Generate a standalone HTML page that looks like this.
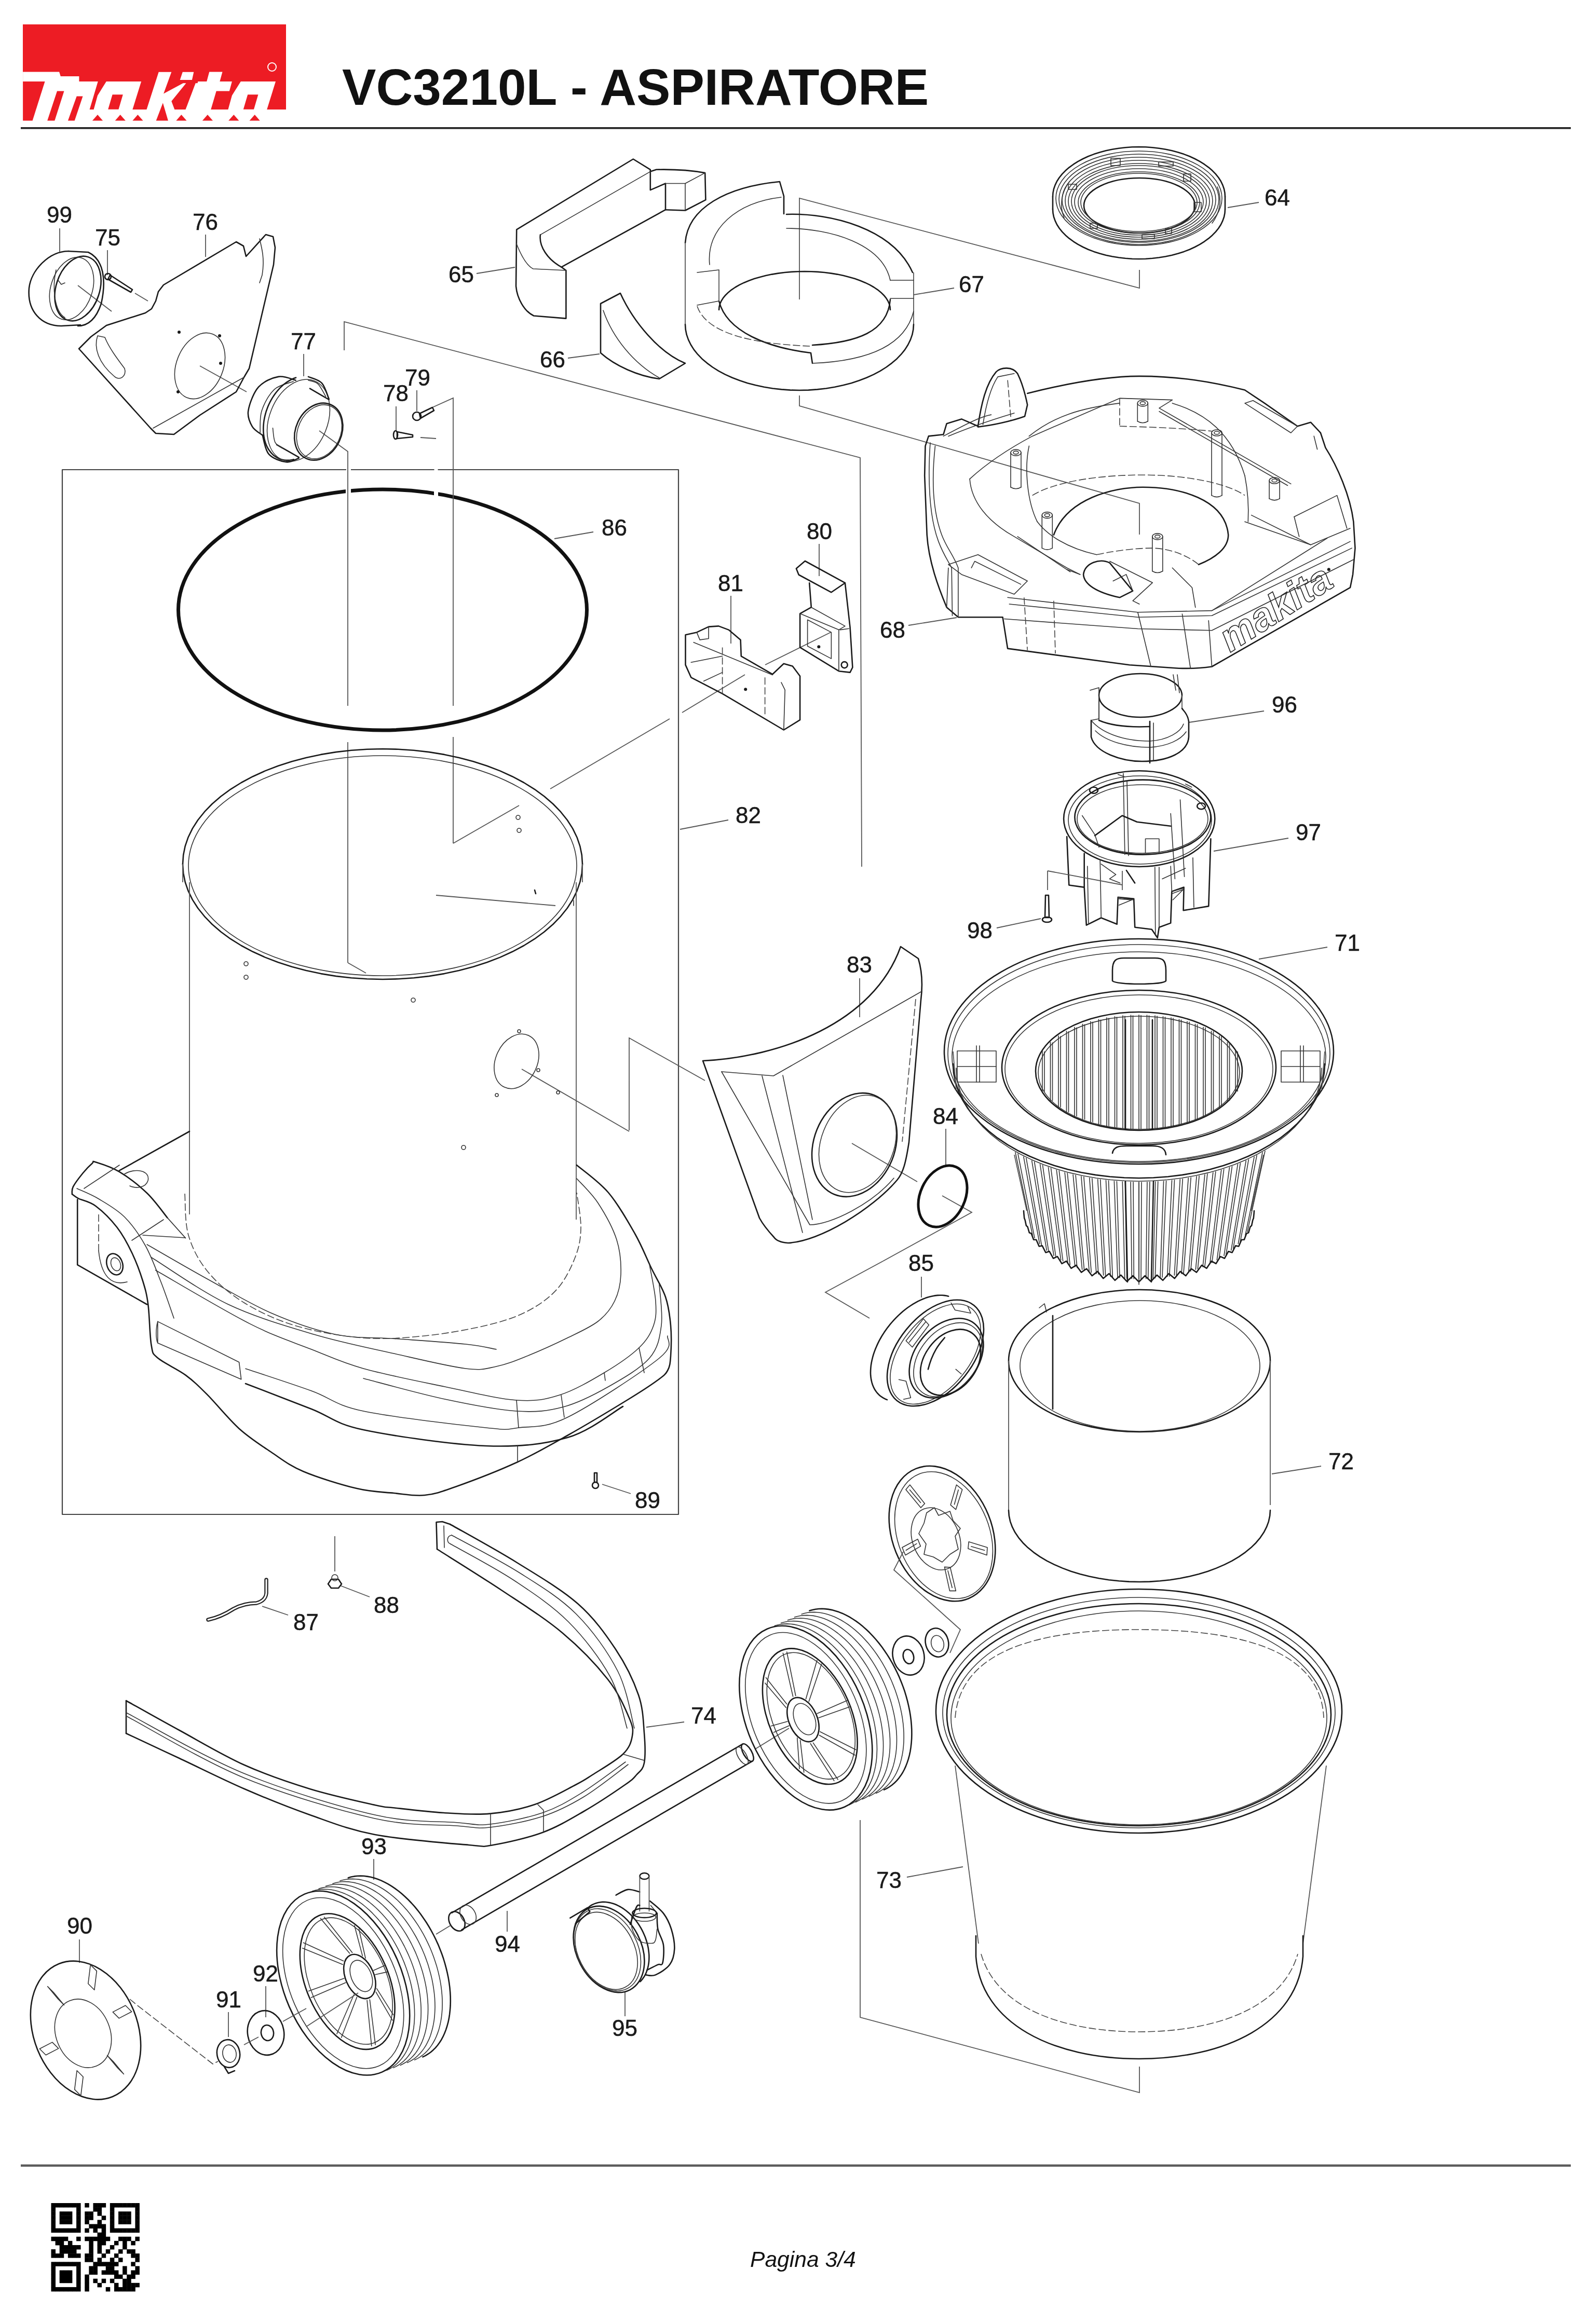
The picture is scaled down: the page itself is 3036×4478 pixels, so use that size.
<!DOCTYPE html>
<html><head><meta charset="utf-8"><style>
html,body{margin:0;padding:0;background:#fff;}
body{width:3036px;height:4478px;overflow:hidden;position:relative;}
svg{position:absolute;left:0;top:0;will-change:transform;}
.o{fill:none;stroke:#1a1a1a;stroke-width:2.6;stroke-linejoin:round;stroke-linecap:round;}
.t{fill:none;stroke:#333;stroke-width:1.6;stroke-linejoin:round;stroke-linecap:round;}
.d{fill:none;stroke:#444;stroke-width:1.6;stroke-dasharray:14 5;}
.l{fill:none;stroke:#555;stroke-width:1.8;}
.k{fill:none;stroke:#111;stroke-width:7;}
.f{fill:#1a1a1a;stroke:none;}
.n{font-family:"Liberation Sans",sans-serif;font-size:44px;fill:#1a1a1a;stroke:#1a1a1a;stroke-width:0.5;}
</style></head><body>
<svg width="3036" height="4478" viewBox="0 0 3036 4478">
<rect x="44" y="47" width="507" height="185" fill="#ed1c24"/>
<rect x="44" y="211" width="510" height="24" fill="#fff"/>
<polygon fill="#fff" points="44.1,138.5 114.1,138.5 116.8,146.9 152.4,146.9 152.4,157.0 188.7,157.0 166.2,232.6 44.1,232.6"/>
<polygon fill="#fff" points="204.8,157.0 272.1,157.0 248.6,232.6 174.6,232.6 188.0,183.9"/>
<polygon fill="#fff" points="305.7,138.8 330.3,138.8 315.1,180.5 352.8,160.3 358.5,160.3 330.3,195.0 344.4,232.6 275.5,232.6"/>
<polygon fill="#fff" points="351.8,138.8 373.3,138.8 369.9,154.0 346.7,154.0"/>
<polygon fill="#fff" points="376.7,160.3 398.2,160.3 373.0,232.6 349.4,232.6"/>
<polygon fill="#fff" points="403.2,138.5 428.5,138.5 423.4,157.0 446.9,157.0 441.9,175.5 416.7,175.5 399.9,232.6 369.6,232.6 386.4,175.5 376.3,175.5 381.4,157.0 398.2,157.0"/>
<polygon fill="#fff" points="463.8,157.0 531.0,157.0 507.5,232.6 433.5,232.6 446.9,183.9"/>
<polygon fill="#ed1c24" points="44.1,157.0 86.5,157.0 62.6,232.6 44.1,232.6"/>
<polygon fill="#ed1c24" points="110.0,175.5 123.5,175.5 105.3,232.6 91.2,232.6"/>
<polygon fill="#ed1c24" points="147.7,185.6 159.5,185.6 143.7,232.6 130.9,232.6"/>
<polygon fill="#ed1c24" points="216.6,182.2 236.8,182.2 228.4,210.8 208.2,210.8"/>
<polygon fill="#ed1c24" points="477.2,182.2 497.4,182.2 489.0,210.8 468.8,210.8"/>
<polygon fill="#ed1c24" points="313.8,198.3 323.9,232.6 300.7,232.6"/>
<polygon fill="#ed1c24" points="177.9,232.6 188.0,220.9 198.1,232.6"/>
<polygon fill="#ed1c24" points="221.7,232.6 231.7,220.9 241.8,232.6"/>
<polygon fill="#ed1c24" points="255.3,232.6 265.4,220.9 275.5,232.6"/>
<polygon fill="#ed1c24" points="339.3,232.6 349.4,220.9 359.5,232.6"/>
<polygon fill="#ed1c24" points="389.8,232.6 399.9,220.9 410.0,232.6"/>
<polygon fill="#ed1c24" points="440.2,232.6 450.3,220.9 460.4,232.6"/>
<polygon fill="#ed1c24" points="480.6,232.6 490.7,220.9 500.7,232.6"/>
<circle cx="524" cy="129" r="8" fill="none" stroke="#fff" stroke-width="2"/>
<text x="659" y="202" font-family="Liberation Sans, sans-serif" font-weight="bold" font-size="98.1" fill="#111">VC3210L - ASPIRATORE</text>
<rect x="40" y="245" width="2986" height="3.6" fill="#222"/>
<rect x="40" y="4170.5" width="2986" height="4.4" fill="#5c5c5c"/>
<text x="1445" y="4368" font-family="Liberation Sans, sans-serif" font-style="italic" font-size="42.6" fill="#111">Pagina 3/4</text>
<rect x="98.50" y="4245.00" width="8.50" height="8.50" fill="#000"/>
<rect x="106.60" y="4245.00" width="8.50" height="8.50" fill="#000"/>
<rect x="114.69" y="4245.00" width="8.50" height="8.50" fill="#000"/>
<rect x="122.79" y="4245.00" width="8.50" height="8.50" fill="#000"/>
<rect x="130.88" y="4245.00" width="8.50" height="8.50" fill="#000"/>
<rect x="138.98" y="4245.00" width="8.50" height="8.50" fill="#000"/>
<rect x="147.07" y="4245.00" width="8.50" height="8.50" fill="#000"/>
<rect x="163.26" y="4245.00" width="8.50" height="8.50" fill="#000"/>
<rect x="179.45" y="4245.00" width="8.50" height="8.50" fill="#000"/>
<rect x="187.55" y="4245.00" width="8.50" height="8.50" fill="#000"/>
<rect x="195.64" y="4245.00" width="8.50" height="8.50" fill="#000"/>
<rect x="211.83" y="4245.00" width="8.50" height="8.50" fill="#000"/>
<rect x="219.93" y="4245.00" width="8.50" height="8.50" fill="#000"/>
<rect x="228.02" y="4245.00" width="8.50" height="8.50" fill="#000"/>
<rect x="236.12" y="4245.00" width="8.50" height="8.50" fill="#000"/>
<rect x="244.21" y="4245.00" width="8.50" height="8.50" fill="#000"/>
<rect x="252.31" y="4245.00" width="8.50" height="8.50" fill="#000"/>
<rect x="260.40" y="4245.00" width="8.50" height="8.50" fill="#000"/>
<rect x="98.50" y="4253.10" width="8.50" height="8.50" fill="#000"/>
<rect x="147.07" y="4253.10" width="8.50" height="8.50" fill="#000"/>
<rect x="179.45" y="4253.10" width="8.50" height="8.50" fill="#000"/>
<rect x="187.55" y="4253.10" width="8.50" height="8.50" fill="#000"/>
<rect x="211.83" y="4253.10" width="8.50" height="8.50" fill="#000"/>
<rect x="260.40" y="4253.10" width="8.50" height="8.50" fill="#000"/>
<rect x="98.50" y="4261.19" width="8.50" height="8.50" fill="#000"/>
<rect x="114.69" y="4261.19" width="8.50" height="8.50" fill="#000"/>
<rect x="122.79" y="4261.19" width="8.50" height="8.50" fill="#000"/>
<rect x="130.88" y="4261.19" width="8.50" height="8.50" fill="#000"/>
<rect x="147.07" y="4261.19" width="8.50" height="8.50" fill="#000"/>
<rect x="163.26" y="4261.19" width="8.50" height="8.50" fill="#000"/>
<rect x="171.36" y="4261.19" width="8.50" height="8.50" fill="#000"/>
<rect x="187.55" y="4261.19" width="8.50" height="8.50" fill="#000"/>
<rect x="211.83" y="4261.19" width="8.50" height="8.50" fill="#000"/>
<rect x="228.02" y="4261.19" width="8.50" height="8.50" fill="#000"/>
<rect x="236.12" y="4261.19" width="8.50" height="8.50" fill="#000"/>
<rect x="244.21" y="4261.19" width="8.50" height="8.50" fill="#000"/>
<rect x="260.40" y="4261.19" width="8.50" height="8.50" fill="#000"/>
<rect x="98.50" y="4269.29" width="8.50" height="8.50" fill="#000"/>
<rect x="114.69" y="4269.29" width="8.50" height="8.50" fill="#000"/>
<rect x="122.79" y="4269.29" width="8.50" height="8.50" fill="#000"/>
<rect x="130.88" y="4269.29" width="8.50" height="8.50" fill="#000"/>
<rect x="147.07" y="4269.29" width="8.50" height="8.50" fill="#000"/>
<rect x="163.26" y="4269.29" width="8.50" height="8.50" fill="#000"/>
<rect x="171.36" y="4269.29" width="8.50" height="8.50" fill="#000"/>
<rect x="195.64" y="4269.29" width="8.50" height="8.50" fill="#000"/>
<rect x="211.83" y="4269.29" width="8.50" height="8.50" fill="#000"/>
<rect x="228.02" y="4269.29" width="8.50" height="8.50" fill="#000"/>
<rect x="236.12" y="4269.29" width="8.50" height="8.50" fill="#000"/>
<rect x="244.21" y="4269.29" width="8.50" height="8.50" fill="#000"/>
<rect x="260.40" y="4269.29" width="8.50" height="8.50" fill="#000"/>
<rect x="98.50" y="4277.38" width="8.50" height="8.50" fill="#000"/>
<rect x="114.69" y="4277.38" width="8.50" height="8.50" fill="#000"/>
<rect x="122.79" y="4277.38" width="8.50" height="8.50" fill="#000"/>
<rect x="130.88" y="4277.38" width="8.50" height="8.50" fill="#000"/>
<rect x="147.07" y="4277.38" width="8.50" height="8.50" fill="#000"/>
<rect x="163.26" y="4277.38" width="8.50" height="8.50" fill="#000"/>
<rect x="187.55" y="4277.38" width="8.50" height="8.50" fill="#000"/>
<rect x="211.83" y="4277.38" width="8.50" height="8.50" fill="#000"/>
<rect x="228.02" y="4277.38" width="8.50" height="8.50" fill="#000"/>
<rect x="236.12" y="4277.38" width="8.50" height="8.50" fill="#000"/>
<rect x="244.21" y="4277.38" width="8.50" height="8.50" fill="#000"/>
<rect x="260.40" y="4277.38" width="8.50" height="8.50" fill="#000"/>
<rect x="98.50" y="4285.48" width="8.50" height="8.50" fill="#000"/>
<rect x="147.07" y="4285.48" width="8.50" height="8.50" fill="#000"/>
<rect x="171.36" y="4285.48" width="8.50" height="8.50" fill="#000"/>
<rect x="179.45" y="4285.48" width="8.50" height="8.50" fill="#000"/>
<rect x="187.55" y="4285.48" width="8.50" height="8.50" fill="#000"/>
<rect x="195.64" y="4285.48" width="8.50" height="8.50" fill="#000"/>
<rect x="211.83" y="4285.48" width="8.50" height="8.50" fill="#000"/>
<rect x="260.40" y="4285.48" width="8.50" height="8.50" fill="#000"/>
<rect x="98.50" y="4293.57" width="8.50" height="8.50" fill="#000"/>
<rect x="106.60" y="4293.57" width="8.50" height="8.50" fill="#000"/>
<rect x="114.69" y="4293.57" width="8.50" height="8.50" fill="#000"/>
<rect x="122.79" y="4293.57" width="8.50" height="8.50" fill="#000"/>
<rect x="130.88" y="4293.57" width="8.50" height="8.50" fill="#000"/>
<rect x="138.98" y="4293.57" width="8.50" height="8.50" fill="#000"/>
<rect x="147.07" y="4293.57" width="8.50" height="8.50" fill="#000"/>
<rect x="163.26" y="4293.57" width="8.50" height="8.50" fill="#000"/>
<rect x="179.45" y="4293.57" width="8.50" height="8.50" fill="#000"/>
<rect x="195.64" y="4293.57" width="8.50" height="8.50" fill="#000"/>
<rect x="211.83" y="4293.57" width="8.50" height="8.50" fill="#000"/>
<rect x="219.93" y="4293.57" width="8.50" height="8.50" fill="#000"/>
<rect x="228.02" y="4293.57" width="8.50" height="8.50" fill="#000"/>
<rect x="236.12" y="4293.57" width="8.50" height="8.50" fill="#000"/>
<rect x="244.21" y="4293.57" width="8.50" height="8.50" fill="#000"/>
<rect x="252.31" y="4293.57" width="8.50" height="8.50" fill="#000"/>
<rect x="260.40" y="4293.57" width="8.50" height="8.50" fill="#000"/>
<rect x="187.55" y="4301.67" width="8.50" height="8.50" fill="#000"/>
<rect x="195.64" y="4301.67" width="8.50" height="8.50" fill="#000"/>
<rect x="98.50" y="4309.76" width="8.50" height="8.50" fill="#000"/>
<rect x="106.60" y="4309.76" width="8.50" height="8.50" fill="#000"/>
<rect x="114.69" y="4309.76" width="8.50" height="8.50" fill="#000"/>
<rect x="122.79" y="4309.76" width="8.50" height="8.50" fill="#000"/>
<rect x="147.07" y="4309.76" width="8.50" height="8.50" fill="#000"/>
<rect x="163.26" y="4309.76" width="8.50" height="8.50" fill="#000"/>
<rect x="171.36" y="4309.76" width="8.50" height="8.50" fill="#000"/>
<rect x="179.45" y="4309.76" width="8.50" height="8.50" fill="#000"/>
<rect x="187.55" y="4309.76" width="8.50" height="8.50" fill="#000"/>
<rect x="195.64" y="4309.76" width="8.50" height="8.50" fill="#000"/>
<rect x="203.74" y="4309.76" width="8.50" height="8.50" fill="#000"/>
<rect x="228.02" y="4309.76" width="8.50" height="8.50" fill="#000"/>
<rect x="236.12" y="4309.76" width="8.50" height="8.50" fill="#000"/>
<rect x="244.21" y="4309.76" width="8.50" height="8.50" fill="#000"/>
<rect x="260.40" y="4309.76" width="8.50" height="8.50" fill="#000"/>
<rect x="106.60" y="4317.86" width="8.50" height="8.50" fill="#000"/>
<rect x="114.69" y="4317.86" width="8.50" height="8.50" fill="#000"/>
<rect x="130.88" y="4317.86" width="8.50" height="8.50" fill="#000"/>
<rect x="171.36" y="4317.86" width="8.50" height="8.50" fill="#000"/>
<rect x="187.55" y="4317.86" width="8.50" height="8.50" fill="#000"/>
<rect x="195.64" y="4317.86" width="8.50" height="8.50" fill="#000"/>
<rect x="219.93" y="4317.86" width="8.50" height="8.50" fill="#000"/>
<rect x="236.12" y="4317.86" width="8.50" height="8.50" fill="#000"/>
<rect x="252.31" y="4317.86" width="8.50" height="8.50" fill="#000"/>
<rect x="114.69" y="4325.95" width="8.50" height="8.50" fill="#000"/>
<rect x="122.79" y="4325.95" width="8.50" height="8.50" fill="#000"/>
<rect x="130.88" y="4325.95" width="8.50" height="8.50" fill="#000"/>
<rect x="138.98" y="4325.95" width="8.50" height="8.50" fill="#000"/>
<rect x="147.07" y="4325.95" width="8.50" height="8.50" fill="#000"/>
<rect x="171.36" y="4325.95" width="8.50" height="8.50" fill="#000"/>
<rect x="187.55" y="4325.95" width="8.50" height="8.50" fill="#000"/>
<rect x="211.83" y="4325.95" width="8.50" height="8.50" fill="#000"/>
<rect x="236.12" y="4325.95" width="8.50" height="8.50" fill="#000"/>
<rect x="98.50" y="4334.05" width="8.50" height="8.50" fill="#000"/>
<rect x="114.69" y="4334.05" width="8.50" height="8.50" fill="#000"/>
<rect x="122.79" y="4334.05" width="8.50" height="8.50" fill="#000"/>
<rect x="130.88" y="4334.05" width="8.50" height="8.50" fill="#000"/>
<rect x="138.98" y="4334.05" width="8.50" height="8.50" fill="#000"/>
<rect x="171.36" y="4334.05" width="8.50" height="8.50" fill="#000"/>
<rect x="187.55" y="4334.05" width="8.50" height="8.50" fill="#000"/>
<rect x="203.74" y="4334.05" width="8.50" height="8.50" fill="#000"/>
<rect x="228.02" y="4334.05" width="8.50" height="8.50" fill="#000"/>
<rect x="244.21" y="4334.05" width="8.50" height="8.50" fill="#000"/>
<rect x="252.31" y="4334.05" width="8.50" height="8.50" fill="#000"/>
<rect x="98.50" y="4342.14" width="8.50" height="8.50" fill="#000"/>
<rect x="106.60" y="4342.14" width="8.50" height="8.50" fill="#000"/>
<rect x="114.69" y="4342.14" width="8.50" height="8.50" fill="#000"/>
<rect x="130.88" y="4342.14" width="8.50" height="8.50" fill="#000"/>
<rect x="138.98" y="4342.14" width="8.50" height="8.50" fill="#000"/>
<rect x="147.07" y="4342.14" width="8.50" height="8.50" fill="#000"/>
<rect x="163.26" y="4342.14" width="8.50" height="8.50" fill="#000"/>
<rect x="171.36" y="4342.14" width="8.50" height="8.50" fill="#000"/>
<rect x="195.64" y="4342.14" width="8.50" height="8.50" fill="#000"/>
<rect x="219.93" y="4342.14" width="8.50" height="8.50" fill="#000"/>
<rect x="252.31" y="4342.14" width="8.50" height="8.50" fill="#000"/>
<rect x="260.40" y="4342.14" width="8.50" height="8.50" fill="#000"/>
<rect x="163.26" y="4350.24" width="8.50" height="8.50" fill="#000"/>
<rect x="171.36" y="4350.24" width="8.50" height="8.50" fill="#000"/>
<rect x="187.55" y="4350.24" width="8.50" height="8.50" fill="#000"/>
<rect x="211.83" y="4350.24" width="8.50" height="8.50" fill="#000"/>
<rect x="228.02" y="4350.24" width="8.50" height="8.50" fill="#000"/>
<rect x="260.40" y="4350.24" width="8.50" height="8.50" fill="#000"/>
<rect x="98.50" y="4358.33" width="8.50" height="8.50" fill="#000"/>
<rect x="106.60" y="4358.33" width="8.50" height="8.50" fill="#000"/>
<rect x="114.69" y="4358.33" width="8.50" height="8.50" fill="#000"/>
<rect x="122.79" y="4358.33" width="8.50" height="8.50" fill="#000"/>
<rect x="130.88" y="4358.33" width="8.50" height="8.50" fill="#000"/>
<rect x="138.98" y="4358.33" width="8.50" height="8.50" fill="#000"/>
<rect x="147.07" y="4358.33" width="8.50" height="8.50" fill="#000"/>
<rect x="179.45" y="4358.33" width="8.50" height="8.50" fill="#000"/>
<rect x="187.55" y="4358.33" width="8.50" height="8.50" fill="#000"/>
<rect x="195.64" y="4358.33" width="8.50" height="8.50" fill="#000"/>
<rect x="203.74" y="4358.33" width="8.50" height="8.50" fill="#000"/>
<rect x="211.83" y="4358.33" width="8.50" height="8.50" fill="#000"/>
<rect x="219.93" y="4358.33" width="8.50" height="8.50" fill="#000"/>
<rect x="252.31" y="4358.33" width="8.50" height="8.50" fill="#000"/>
<rect x="98.50" y="4366.43" width="8.50" height="8.50" fill="#000"/>
<rect x="147.07" y="4366.43" width="8.50" height="8.50" fill="#000"/>
<rect x="171.36" y="4366.43" width="8.50" height="8.50" fill="#000"/>
<rect x="179.45" y="4366.43" width="8.50" height="8.50" fill="#000"/>
<rect x="203.74" y="4366.43" width="8.50" height="8.50" fill="#000"/>
<rect x="211.83" y="4366.43" width="8.50" height="8.50" fill="#000"/>
<rect x="236.12" y="4366.43" width="8.50" height="8.50" fill="#000"/>
<rect x="260.40" y="4366.43" width="8.50" height="8.50" fill="#000"/>
<rect x="98.50" y="4374.52" width="8.50" height="8.50" fill="#000"/>
<rect x="114.69" y="4374.52" width="8.50" height="8.50" fill="#000"/>
<rect x="122.79" y="4374.52" width="8.50" height="8.50" fill="#000"/>
<rect x="130.88" y="4374.52" width="8.50" height="8.50" fill="#000"/>
<rect x="147.07" y="4374.52" width="8.50" height="8.50" fill="#000"/>
<rect x="171.36" y="4374.52" width="8.50" height="8.50" fill="#000"/>
<rect x="179.45" y="4374.52" width="8.50" height="8.50" fill="#000"/>
<rect x="195.64" y="4374.52" width="8.50" height="8.50" fill="#000"/>
<rect x="203.74" y="4374.52" width="8.50" height="8.50" fill="#000"/>
<rect x="211.83" y="4374.52" width="8.50" height="8.50" fill="#000"/>
<rect x="219.93" y="4374.52" width="8.50" height="8.50" fill="#000"/>
<rect x="236.12" y="4374.52" width="8.50" height="8.50" fill="#000"/>
<rect x="252.31" y="4374.52" width="8.50" height="8.50" fill="#000"/>
<rect x="260.40" y="4374.52" width="8.50" height="8.50" fill="#000"/>
<rect x="98.50" y="4382.62" width="8.50" height="8.50" fill="#000"/>
<rect x="114.69" y="4382.62" width="8.50" height="8.50" fill="#000"/>
<rect x="122.79" y="4382.62" width="8.50" height="8.50" fill="#000"/>
<rect x="130.88" y="4382.62" width="8.50" height="8.50" fill="#000"/>
<rect x="147.07" y="4382.62" width="8.50" height="8.50" fill="#000"/>
<rect x="163.26" y="4382.62" width="8.50" height="8.50" fill="#000"/>
<rect x="219.93" y="4382.62" width="8.50" height="8.50" fill="#000"/>
<rect x="228.02" y="4382.62" width="8.50" height="8.50" fill="#000"/>
<rect x="244.21" y="4382.62" width="8.50" height="8.50" fill="#000"/>
<rect x="252.31" y="4382.62" width="8.50" height="8.50" fill="#000"/>
<rect x="98.50" y="4390.71" width="8.50" height="8.50" fill="#000"/>
<rect x="114.69" y="4390.71" width="8.50" height="8.50" fill="#000"/>
<rect x="122.79" y="4390.71" width="8.50" height="8.50" fill="#000"/>
<rect x="130.88" y="4390.71" width="8.50" height="8.50" fill="#000"/>
<rect x="147.07" y="4390.71" width="8.50" height="8.50" fill="#000"/>
<rect x="163.26" y="4390.71" width="8.50" height="8.50" fill="#000"/>
<rect x="179.45" y="4390.71" width="8.50" height="8.50" fill="#000"/>
<rect x="195.64" y="4390.71" width="8.50" height="8.50" fill="#000"/>
<rect x="211.83" y="4390.71" width="8.50" height="8.50" fill="#000"/>
<rect x="236.12" y="4390.71" width="8.50" height="8.50" fill="#000"/>
<rect x="244.21" y="4390.71" width="8.50" height="8.50" fill="#000"/>
<rect x="98.50" y="4398.81" width="8.50" height="8.50" fill="#000"/>
<rect x="147.07" y="4398.81" width="8.50" height="8.50" fill="#000"/>
<rect x="163.26" y="4398.81" width="8.50" height="8.50" fill="#000"/>
<rect x="187.55" y="4398.81" width="8.50" height="8.50" fill="#000"/>
<rect x="219.93" y="4398.81" width="8.50" height="8.50" fill="#000"/>
<rect x="236.12" y="4398.81" width="8.50" height="8.50" fill="#000"/>
<rect x="244.21" y="4398.81" width="8.50" height="8.50" fill="#000"/>
<rect x="252.31" y="4398.81" width="8.50" height="8.50" fill="#000"/>
<rect x="260.40" y="4398.81" width="8.50" height="8.50" fill="#000"/>
<rect x="98.50" y="4406.90" width="8.50" height="8.50" fill="#000"/>
<rect x="106.60" y="4406.90" width="8.50" height="8.50" fill="#000"/>
<rect x="114.69" y="4406.90" width="8.50" height="8.50" fill="#000"/>
<rect x="122.79" y="4406.90" width="8.50" height="8.50" fill="#000"/>
<rect x="130.88" y="4406.90" width="8.50" height="8.50" fill="#000"/>
<rect x="138.98" y="4406.90" width="8.50" height="8.50" fill="#000"/>
<rect x="147.07" y="4406.90" width="8.50" height="8.50" fill="#000"/>
<rect x="163.26" y="4406.90" width="8.50" height="8.50" fill="#000"/>
<rect x="203.74" y="4406.90" width="8.50" height="8.50" fill="#000"/>
<rect x="219.93" y="4406.90" width="8.50" height="8.50" fill="#000"/>
<rect x="228.02" y="4406.90" width="8.50" height="8.50" fill="#000"/>
<rect x="236.12" y="4406.90" width="8.50" height="8.50" fill="#000"/>
<rect x="244.21" y="4406.90" width="8.50" height="8.50" fill="#000"/>
<rect x="252.31" y="4406.90" width="8.50" height="8.50" fill="#000"/>
<rect class="o" x="120" y="905" width="1187" height="2013" style="stroke:#444;stroke-width:2.2"/>
<ellipse class="k" cx="737" cy="1175" rx="393.5" ry="232"/>
<rect x="666" y="934" width="10" height="22" fill="#fff"/><rect x="836" y="940" width="8" height="22" fill="#fff"/><rect x="667" y="900" width="9" height="9" fill="#fff"/><rect x="836.5" y="900" width="7" height="9" fill="#fff"/>
<text class="n" x="90" y="429">99</text>
<text class="n" x="183" y="473">75</text>
<text class="n" x="371" y="443">76</text>
<text class="n" x="560" y="673">77</text>
<text class="n" x="738" y="773">78</text>
<text class="n" x="780" y="743">79</text>
<text class="n" x="864" y="544">65</text>
<text class="n" x="1040" y="708">66</text>
<text class="n" x="1159" y="1032">86</text>
<text class="n" x="1383" y="1139">81</text>
<text class="n" x="1417" y="1586">82</text>
<text class="n" x="2436" y="396">64</text>
<text class="n" x="1847" y="563">67</text>
<text class="n" x="1695" y="1229">68</text>
<text class="n" x="1554" y="1039">80</text>
<text class="n" x="2450" y="1373">96</text>
<text class="n" x="2496" y="1619">97</text>
<text class="n" x="1863" y="1808">98</text>
<text class="n" x="2571" y="1832">71</text>
<text class="n" x="1631" y="1874">83</text>
<text class="n" x="1797" y="2166">84</text>
<text class="n" x="1750" y="2449">85</text>
<text class="n" x="2559" y="2831">72</text>
<text class="n" x="1223" y="2906">89</text>
<text class="n" x="565" y="3141">87</text>
<text class="n" x="720" y="3108">88</text>
<text class="n" x="1331" y="3321">74</text>
<text class="n" x="696" y="3573">93</text>
<text class="n" x="953" y="3761">94</text>
<text class="n" x="1179" y="3923">95</text>
<text class="n" x="129" y="3726">90</text>
<text class="n" x="416" y="3868">91</text>
<text class="n" x="487" y="3818">92</text>
<text class="n" x="1688" y="3638">73</text>
<line class="l" x1="115" y1="440" x2="115" y2="485"/>
<line class="l" x1="207" y1="482" x2="207" y2="530"/>
<line class="l" x1="396" y1="452" x2="396" y2="495"/>
<line class="l" x1="585" y1="682" x2="585" y2="725"/>
<line class="l" x1="763" y1="783" x2="763" y2="830"/>
<line class="l" x1="803" y1="752" x2="803" y2="792"/>
<line class="l" x1="918" y1="527" x2="992" y2="515"/>
<line class="l" x1="1094" y1="690" x2="1155" y2="682"/>
<line class="l" x1="1068" y1="1038" x2="1143" y2="1025"/>
<line class="l" x1="1408" y1="1148" x2="1408" y2="1240"/>
<line class="l" x1="1310" y1="1598" x2="1403" y2="1580"/>
<line class="l" x1="2365" y1="400" x2="2425" y2="390"/>
<line class="l" x1="1760" y1="568" x2="1838" y2="555"/>
<line class="l" x1="1750" y1="1205" x2="1843" y2="1190"/>
<line class="l" x1="1578" y1="1048" x2="1578" y2="1110"/>
<line class="l" x1="2290" y1="1392" x2="2435" y2="1370"/>
<line class="l" x1="2338" y1="1640" x2="2482" y2="1615"/>
<line class="l" x1="1920" y1="1788" x2="2005" y2="1770"/>
<line class="l" x1="2425" y1="1848" x2="2557" y2="1825"/>
<line class="l" x1="1656" y1="1885" x2="1656" y2="1960"/>
<line class="l" x1="1822" y1="2175" x2="1822" y2="2245"/>
<line class="l" x1="1775" y1="2460" x2="1775" y2="2500"/>
<line class="l" x1="2450" y1="2840" x2="2545" y2="2825"/>
<line class="l" x1="1160" y1="2860" x2="1215" y2="2878"/>
<line class="l" x1="505" y1="3095" x2="555" y2="3112"/>
<line class="l" x1="655" y1="3055" x2="712" y2="3077"/>
<line class="l" x1="1245" y1="3328" x2="1318" y2="3318"/>
<line class="l" x1="720" y1="3582" x2="720" y2="3622"/>
<line class="l" x1="977" y1="3682" x2="977" y2="3722"/>
<line class="l" x1="1204" y1="3837" x2="1204" y2="3885"/>
<line class="l" x1="153" y1="3737" x2="153" y2="3782"/>
<line class="l" x1="440" y1="3877" x2="440" y2="3925"/>
<line class="l" x1="512" y1="3827" x2="512" y2="3887"/>
<line class="l" x1="1747" y1="3617" x2="1855" y2="3597"/>
<path class="l" d="M663.0,675.0 L663.0,620.0 L1657.0,882.0 L1660.0,1670.0"/>
<path class="l" d="M1540.0,577.0 L1540.0,382.0 L2195.0,555.0 L2195.0,520.0"/>
<path class="l" d="M1540.0,762.0 L1540.0,782.0 L2195.0,970.0 L2195.0,1030.0"/>
<path class="l" d="M1657.0,3507.0 L1657.0,3887.0 L2195.0,4032.0 L2195.0,3982.0"/>
<path class="l" d="M1212.0,2178.0 L1212.0,2000.0 L1358.0,2082.0"/>
<line class="l" x1="1005" y1="2060" x2="1212" y2="2180"/>
<line class="l" x1="1641" y1="2203" x2="1767" y2="2277"/>
<path class="l" d="M1815.0,2304.0 L1872.0,2336.0 L1701.0,2430.0"/>
<path class="l" d="M1701.0,2430.0 L1590.0,2490.0 L1675.0,2540.0"/>
<path class="l" d="M833.0,785.0 L873.0,767.0 L873.0,1360.0"/>
<line class="l" x1="873" y1="1420" x2="873" y2="1625"/>
<path class="l" d="M873.0,1625.0 L1000.0,1552.0"/>
<line class="l" x1="810" y1="843" x2="840" y2="845"/>
<path class="l" d="M615.0,830.0 L670.0,870.0 L670.0,1360.0"/>
<line class="l" x1="670" y1="1430" x2="670" y2="1855"/>
<line class="l" x1="670" y1="1855" x2="705" y2="1875"/>
<line class="l" x1="150" y1="550" x2="215" y2="600"/>
<line class="l" x1="260" y1="565" x2="285" y2="580"/>
<line class="l" x1="385" y1="705" x2="475" y2="755"/>
<line class="l" x1="1060" y1="1520" x2="1290" y2="1385"/>
<line class="l" x1="1314" y1="1373" x2="1435" y2="1300"/>
<line class="l" x1="1474" y1="1281" x2="1601" y2="1218"/>
<line class="l" x1="840" y1="1725" x2="1070" y2="1745"/>
<path class="o" d="M132,484 C95,484 60,520 56,555 C52,600 80,628 118,628 L155,626"/>
<path class="o" d="M132,484 L170,486 C200,500 205,540 195,585 C185,615 170,628 150,628"/>
<ellipse class="o" cx="150" cy="556" rx="42" ry="64" transform="rotate(18 150 556)"/>
<ellipse class="t" cx="138" cy="556" rx="40" ry="62" transform="rotate(18 138 556)"/>
<path class="t" d="M108,520 C100,555 105,600 125,612"/>
<path class="t" d="M112.0,540.0 L118.0,548.0 L125.0,545.0"/>
<circle class="o" cx="208" cy="533" r="6"/>
<path class="o" d="M212.0,530.0 L255.0,558.0 L252.0,563.0 L208.0,538.0Z"/>
<path class="o" d="M152.0,672.0 L175.0,649.0 L205.0,627.0 L280.0,603.0 L292.0,595.0 L300.0,580.0 L305.0,562.0 L315.0,549.0 L455.0,466.0 L469.0,474.0 L474.0,494.0 L512.0,452.0 L526.0,456.0 L530.0,477.0 L527.0,510.0 L480.0,710.0 L470.0,727.0 L455.0,755.0 L385.0,800.0 L335.0,837.0 L300.0,835.0 L290.0,825.0Z"/>
<line class="t" x1="295" y1="825" x2="470" y2="727"/>
<ellipse class="t" cx="385" cy="705" rx="45" ry="66" transform="rotate(22 385 705)"/>
<path class="t" d="M188,647 C180,670 190,700 220,725 C230,735 245,725 240,710 C225,690 210,670 202,650 Z"/>
<path class="t" d="M500,460 C505,480 510,500 505,530 L500,545"/>
<circle class="f" cx="345" cy="640" r="3"/><circle class="f" cx="425" cy="700" r="3"/><circle class="f" cx="343" cy="755" r="3"/><circle class="f" cx="423" cy="647" r="3"/>
<path class="o" d="M569.6,732.7 C564.1,731.6 548.1,723.7 536.1,725.9 C524.2,728.0 507.7,734.8 498.1,745.7 C488.4,756.6 480.3,778.7 478.3,791.4 C476.2,804.1 481.3,814.0 485.9,821.8 C490.5,829.7 502.4,835.8 505.7,838.6"/>
<path class="t" d="M565.1,735.0 C559.0,737.6 538.7,740.9 528.5,750.3 C518.4,759.6 508.7,777.4 504.2,791.4 C499.6,805.3 501.6,826.9 501.1,834.0"/>
<path class="o" d="M566.0,885.3 L562.7,886.0 L559.5,886.5 L556.3,886.8 L553.1,886.9 L550.0,886.7 L546.9,886.3 L543.9,885.7 L541.0,884.9 L538.1,883.9 L535.4,882.6 L532.7,881.2 L530.1,879.5 L527.6,877.7 L525.3,875.6 L523.1,873.4 L521.0,870.9 L519.0,868.3 L517.1,865.5 L515.5,862.6 L513.9,859.5 L512.5,856.2 L511.3,852.9 L510.2,849.3 L509.3,845.7 L508.6,842.0 L508.0,838.1 L507.6,834.2 L507.4,830.2 L507.3,826.1 L507.4,822.0 L507.7,817.8 L508.1,813.6 L508.7,809.4 L509.5,805.2 L510.5,800.9 L511.6,796.7 L512.8,792.5 L514.3,788.4 L515.8,784.3 L517.5,780.2 L519.4,776.3 L521.4,772.4 L523.5,768.6 L525.8,764.9 L528.2,761.3 L530.7,757.8 L533.3,754.5 L536.0,751.3 L538.8,748.2 L541.6,745.4 L544.6,742.6 L547.6,740.1 L550.7,737.7 L553.8,735.6 L557.0,733.6 L560.2,731.8 L563.4,730.2 L566.7,728.8 L570.0,727.7"/>
<ellipse class="t" cx="575" cy="810" rx="56" ry="82" transform="rotate(22 575 810)"/>
<path class="o" d="M594.0,725.9 C598.3,727.9 613.3,731.0 619.9,738.1 C626.5,745.2 631.3,763.4 633.6,768.5"/>
<path class="t" d="M594.0,732.7 C597.0,733.9 606.7,734.4 612.3,739.6 C617.9,744.8 625.0,759.9 627.5,764.0"/>
<ellipse class="o" cx="613.8" cy="831.7" rx="44" ry="57" transform="rotate(25 613.8 831.7)"/>
<ellipse class="t" cx="615" cy="832" rx="41" ry="54" transform="rotate(25 615 832)"/>
<path class="o" d="M597.0,748.7 L633.6,770.0"/>
<path class="o" d="M533.1,856.8 L575.7,881.2"/>
<path class="o" d="M505.7,838.6 C507.7,844.7 510.3,866.5 517.9,875.1 C525.5,883.7 541.7,889.1 551.4,890.3 C561.0,891.6 571.7,884.0 575.7,882.7"/>
<path class="t" d="M525.5,824.9 C526.2,829.4 526.7,845.7 530.0,852.3 C533.3,858.9 542.7,862.4 545.3,864.5"/>
<circle class="o" cx="803" cy="802" r="8"/>
<path class="o" d="M808.0,797.0 L833.0,785.0 L836.0,791.0 L810.0,806.0Z"/>
<ellipse class="o" cx="762" cy="838" rx="4" ry="8"/>
<path class="o" d="M765.0,832.0 L795.0,838.0 L795.0,842.0 L765.0,845.0Z"/>
<path class="o" d="M2028.0,379.0 L2028.5,371.5 L2030.0,364.0 L2032.6,356.6 L2036.1,349.3 L2040.6,342.3 L2046.1,335.4 L2052.5,328.8 L2059.7,322.6 L2067.8,316.7 L2076.6,311.1 L2086.2,306.0 L2096.4,301.3 L2107.3,297.1 L2118.6,293.5 L2130.5,290.3 L2142.7,287.7 L2155.2,285.7 L2168.0,284.2 L2181.0,283.3 L2194.0,283.0 L2207.0,283.3 L2220.0,284.2 L2232.8,285.7 L2245.3,287.7 L2257.5,290.3 L2269.4,293.5 L2280.7,297.1 L2291.6,301.3 L2301.8,306.0 L2311.4,311.1 L2320.2,316.7 L2328.3,322.6 L2335.5,328.8 L2341.9,335.4 L2347.4,342.3 L2351.9,349.3 L2355.4,356.6 L2358.0,364.0 L2359.5,371.5 L2360.0,379.0"/>
<path class="o" d="M2360.0,403.0 L2359.5,410.5 L2358.0,418.0 L2355.4,425.4 L2351.9,432.7 L2347.4,439.7 L2341.9,446.6 L2335.5,453.2 L2328.3,459.4 L2320.2,465.3 L2311.4,470.9 L2301.8,476.0 L2291.6,480.7 L2280.7,484.9 L2269.4,488.5 L2257.5,491.7 L2245.3,494.3 L2232.8,496.3 L2220.0,497.8 L2207.0,498.7 L2194.0,499.0 L2181.0,498.7 L2168.0,497.8 L2155.2,496.3 L2142.7,494.3 L2130.5,491.7 L2118.6,488.5 L2107.3,484.9 L2096.4,480.7 L2086.2,476.0 L2076.6,470.9 L2067.8,465.3 L2059.7,459.4 L2052.5,453.2 L2046.1,446.6 L2040.6,439.7 L2036.1,432.7 L2032.6,425.4 L2030.0,418.0 L2028.5,410.5 L2028.0,403.0"/>
<line class="o" x1="2028" y1="379" x2="2028" y2="403"/>
<line class="o" x1="2360" y1="379" x2="2360" y2="403"/>
<ellipse class="o" cx="2195" cy="396" rx="107" ry="53"/>
<ellipse class="t" cx="2194" cy="382" rx="160" ry="91"/>
<ellipse class="t" cx="2194" cy="384" rx="154" ry="87"/>
<ellipse class="t" cx="2194" cy="385" rx="148" ry="82"/>
<ellipse class="t" cx="2194" cy="387" rx="142" ry="78"/>
<ellipse class="t" cx="2194" cy="388" rx="136" ry="73"/>
<ellipse class="t" cx="2194" cy="388" rx="130" ry="69"/>
<ellipse class="t" cx="2194" cy="389" rx="124" ry="64"/>
<ellipse class="t" cx="2194" cy="390" rx="117" ry="59"/>
<ellipse class="t" cx="2194" cy="390" rx="112" ry="56"/>
<rect class="t" x="2140" y="305" width="18" height="14"/>
<rect class="t" x="2232" y="312" width="28" height="8"/>
<rect class="t" x="2280" y="335" width="14" height="14"/>
<rect class="t" x="2058" y="355" width="16" height="10"/>
<rect class="t" x="2300" y="390" width="14" height="18"/>
<rect class="t" x="2100" y="430" width="14" height="10"/>
<rect class="t" x="2200" y="452" width="24" height="8"/>
<rect class="t" x="2245" y="440" width="12" height="10"/>
<path class="t" d="M2050,420 C2040,395 2045,370 2060,350"/>
<path class="t" d="M2345,360 C2355,385 2350,410 2335,430"/>
<path class="o" d="M995.2,442.3 L1219.8,306.5 L1252.8,326.8 L1252.8,366.1 L1282,353.5 L1282,404.2 L1081.5,514.6 L1090.4,521 L1090.4,613.6 L1028.2,608.5 C1010,600 996,575 994,551.4 Z"/>
<path class="o" d="M1252.8,330.6 L1264.3,326.8 C1300,326 1330,328 1358.2,333.1 L1359.4,385.2 L1320.1,405.5 L1282,404.2"/>
<path class="t" d="M1282.0,353.5 L1320.0,353.5 L1358.2,333.1"/>
<line class="t" x1="1320" y1="353.5" x2="1320" y2="405"/>
<path class="o" d="M1040.9,452.4 C1038,475 1055,500 1081.5,514.6"/>
<line class="t" x1="1040.9" y1="452.4" x2="1252.8" y2="330.6"/>
<path class="t" d="M995,470 C1005,495 1015,512 1027,518 L1090.4,521"/>
<path class="o" d="M1157,585 L1195,565 C1220,620 1270,680 1320,700 L1270,730 C1230,725 1185,705 1157,680 Z"/>
<path class="t" d="M1162,598 C1180,650 1220,700 1270,728"/>
<path class="o" d="M1320,468 C1325,400 1400,360 1502,350 L1510,378 L1510,412"/>
<path class="o" d="M1515,413 C1600,410 1720,440 1758,525"/>
<line class="l" x1="1760" y1="525" x2="1760" y2="625"/>
<line class="l" x1="1320" y1="468" x2="1320" y2="625"/>
<path class="o" d="M1760.0,625.0 L1759.3,635.0 L1757.3,644.9 L1753.9,654.6 L1749.2,664.2 L1743.3,673.6 L1736.0,682.7 L1727.6,691.4 L1718.0,699.6 L1707.3,707.5 L1695.6,714.8 L1682.9,721.6 L1669.3,727.7 L1654.9,733.3 L1639.9,738.2 L1624.2,742.3 L1608.0,745.8 L1591.4,748.5 L1574.4,750.4 L1557.3,751.6 L1540.0,752.0 L1522.7,751.6 L1505.6,750.4 L1488.6,748.5 L1472.0,745.8 L1455.8,742.3 L1440.1,738.2 L1425.1,733.3 L1410.7,727.7 L1397.1,721.6 L1384.4,714.8 L1372.7,707.5 L1362.0,699.6 L1352.4,691.4 L1344.0,682.7 L1336.7,673.6 L1330.8,664.2 L1326.1,654.6 L1322.7,644.9 L1320.7,635.0 L1320.0,625.0"/>
<path class="t" d="M1367,510 C1360,440 1420,390 1505,380"/>
<path class="t" d="M1515,440 C1600,440 1700,470 1715,540"/>
<line class="t" x1="1715" y1="540" x2="1760" y2="540"/>
<line class="t" x1="1715" y1="575" x2="1760" y2="575"/>
<path class="o" d="M1385.0,597.0 L1385.5,591.2 L1387.0,585.4 L1389.6,579.7 L1393.1,574.1 L1397.6,568.7 L1403.0,563.4 L1409.3,558.3 L1416.5,553.5 L1424.5,548.9 L1433.3,544.7 L1442.8,540.7 L1453.0,537.1 L1463.8,533.9 L1475.1,531.1 L1486.9,528.6 L1499.0,526.6 L1511.5,525.0 L1524.2,523.9 L1537.1,523.2 L1550.0,523.0 L1562.9,523.2 L1575.8,523.9 L1588.5,525.0 L1601.0,526.6 L1613.1,528.6 L1624.9,531.1 L1636.2,533.9 L1647.0,537.1 L1657.2,540.7 L1666.7,544.7 L1675.5,548.9 L1683.5,553.5 L1690.7,558.3 L1697.0,563.4 L1702.4,568.7 L1706.9,574.1 L1710.4,579.7 L1713.0,585.4 L1714.5,591.2 L1715.0,597.0"/>
<path class="o" d="M1385,580 C1400,640 1480,670 1562,680 L1565,700"/>
<path class="o" d="M1565,665 C1650,660 1710,640 1715,577"/>
<path class="d" d="M1343,590 C1360,640 1440,662 1560,667"/>
<path class="t" d="M1565,700 C1640,697 1740,680 1760,600"/>
<line class="l" x1="1385" y1="520" x2="1385" y2="580"/>
<line class="t" x1="1343" y1="525" x2="1385" y2="520"/>
<line class="t" x1="1343" y1="588" x2="1385" y2="580"/>
<path class="o" d="M1979.2,757.9 C2055.3,738.8 2131.5,724.9 2194.9,724.9 C2271.1,724.9 2334.5,735.7 2398.0,751.5 L2436.0,776.9 L2499.5,821.3 L2524.9,813.7 L2543.9,834.0 L2553.4,862.6 C2575.6,897.5 2601.0,954.6 2607.4,1005.3 L2610.5,1056.1 L2606.1,1106.9 L2601.0,1132.2 L2334.5,1284.5 C2309.1,1288.3 2290.1,1288.3 2271.1,1287.7 L2175.9,1281.3 L1941.1,1249.6 L1931.6,1189.3 L1845.9,1189.3 L1823.7,1170.3 C1807.9,1132.2 1788.8,1081.5 1785.7,1030.7 L1781.2,916.5 L1782.5,859.4 L1788.8,840.4 L1817.4,837.2 L1823.7,816.2 L1852.3,807.4 L1884.0,821.3 "/>
<path class="o" d="M1884.0,821.3 C1890.4,776.9 1899.9,738.8 1918.9,716.6 C1928.4,707.1 1950.6,705.8 1960.2,719.8 C1969.7,738.8 1976.0,764.2 1979.2,780.1 L1974.1,802.3 C1947.5,811.8 1909.4,820.1 1884.0,822.6 "/>
<path class="t" d="M1893.5,818.1 C1899.9,776.9 1909.4,745.2 1922.1,726.1 L1953.8,719.8 "/>
<path class="d" d="M1941.1,732.5 L1947.5,808.6 "/>
<path class="t" d="M1801.5,859.4 C1795.2,916.5 1795.2,979.9 1814.2,1030.7 C1823.7,1056.1 1836.4,1068.8 1845.9,1094.2 L1845.9,1189.3 "/>
<path class="t" d="M1792.0,853.0 C1787.6,916.5 1788.8,992.6 1807.9,1043.4 C1817.4,1068.8 1826.9,1081.5 1833.2,1094.2 L1834.5,1186.2 "/>
<path class="t" d="M1826.9,840.4 C1858.6,827.7 1890.4,815.0 1953.8,795.9 "/>
<path class="t" d="M1817.4,840.4 C1865.0,815.0 1890.4,802.3 1909.4,799.1 "/>
<path class="t" d="M1868.1,922.8 C1903.0,891.1 1941.1,865.7 1988.7,840.4 L2156.9,767.4 L2258.4,770.6 L2233.0,786.4 L2486.8,932.4 "/>
<path class="t" d="M2233.0,792.8 L2480.5,935.5 "/>
<path class="t" d="M1868.1,922.8 C1871.3,967.3 1903.0,1005.3 1953.8,1033.9 L2055.3,1094.2 L2080.7,1106.9 "/>
<path class="t" d="M1960.2,1033.9 L2061.7,1101.8 "/>
<path class="t" d="M1982.4,859.4 C1972.8,903.8 1979.2,967.3 1998.2,1005.3 "/>
<path class="t" d="M2398.0,916.5 C2404.3,948.2 2405.6,979.9 2404.3,1005.3 "/>
<path class="d" d="M2156.9,821.3 C2207.6,822.6 2271.1,824.5 2334.5,830.8 "/>
<path class="d" d="M2156.9,767.4 L2156.9,821.3 "/>
<path class="d" d="M1988.7,954.6 C2029.9,929.2 2112.4,915.2 2201.3,915.2 C2290.1,915.2 2366.2,932.4 2398.0,954.6 "/>
<path class="t" d="M1982.4,840.4 C2029.9,802.3 2080.7,786.4 2156.9,776.9 "/>
<path class="t" d="M2258.4,776.9 C2321.8,795.9 2372.6,834.0 2398.0,916.5 "/>
<path class="o" d="M2029.9,1030.7 C2055.3,960.9 2144.2,938.7 2201.3,938.7 C2271.1,938.7 2359.9,960.9 2366.2,1030.7 C2366.2,1056.1 2340.9,1075.1 2309.1,1087.8 "/>
<path class="d" d="M2112.4,1068.8 C2156.9,1059.3 2194.9,1056.1 2220.3,1056.1 C2258.4,1057.4 2290.1,1072.0 2309.1,1087.8 "/>
<path class="t" d="M1998.2,1005.3 C2017.3,1030.7 2055.3,1056.1 2112.4,1068.8 "/>
<ellipse class="t" cx="2201.3" cy="776.9" rx="10" ry="6"/>
<ellipse class="t" cx="2201.3" cy="776.9" rx="5" ry="3"/>
<line class="t" x1="2191.3" y1="776.9" x2="2191.3" y2="811.8"/>
<line class="t" x1="2211.3" y1="776.9" x2="2211.3" y2="811.8"/>
<path class="t" d="M2191.3,811.8 Q2201.3,817.8 2211.3,811.8"/>
<ellipse class="t" cx="2344.0" cy="834.0" rx="10" ry="6"/>
<ellipse class="t" cx="2344.0" cy="834.0" rx="5" ry="3"/>
<line class="t" x1="2334.0" y1="834.0" x2="2334.0" y2="954.6"/>
<line class="t" x1="2354.0" y1="834.0" x2="2354.0" y2="954.6"/>
<path class="t" d="M2334.0,954.6 Q2344.0,960.6 2354.0,954.6"/>
<ellipse class="t" cx="1957.0" cy="872.1" rx="10" ry="6"/>
<ellipse class="t" cx="1957.0" cy="872.1" rx="5" ry="3"/>
<line class="t" x1="1947.0" y1="872.1" x2="1947.0" y2="938.7"/>
<line class="t" x1="1967.0" y1="872.1" x2="1967.0" y2="938.7"/>
<path class="t" d="M1947.0,938.7 Q1957.0,944.7 1967.0,938.7"/>
<ellipse class="t" cx="2455.1" cy="926.0" rx="10" ry="6"/>
<ellipse class="t" cx="2455.1" cy="926.0" rx="5" ry="3"/>
<line class="t" x1="2445.1" y1="926.0" x2="2445.1" y2="960.9"/>
<line class="t" x1="2465.1" y1="926.0" x2="2465.1" y2="960.9"/>
<path class="t" d="M2445.1,960.9 Q2455.1,966.9 2465.1,960.9"/>
<ellipse class="t" cx="2017.3" cy="992.6" rx="10" ry="6"/>
<ellipse class="t" cx="2017.3" cy="992.6" rx="5" ry="3"/>
<line class="t" x1="2007.3" y1="992.6" x2="2007.3" y2="1056.1"/>
<line class="t" x1="2027.3" y1="992.6" x2="2027.3" y2="1056.1"/>
<path class="t" d="M2007.3,1056.1 Q2017.3,1062.1 2027.3,1056.1"/>
<ellipse class="t" cx="2229.8" cy="1033.9" rx="10" ry="6"/>
<ellipse class="t" cx="2229.8" cy="1033.9" rx="5" ry="3"/>
<line class="t" x1="2219.8" y1="1033.9" x2="2219.8" y2="1100.5"/>
<line class="t" x1="2239.8" y1="1033.9" x2="2239.8" y2="1100.5"/>
<path class="t" d="M2219.8,1100.5 Q2229.8,1106.5 2239.8,1100.5"/>
<path class="t" d="M2398.0,776.9 L2413.8,771.8 L2499.5,821.3 L2486.8,834.0 Z "/>
<path class="t" d="M2531.2,840.4 L2537.6,865.7 "/>
<path class="t" d="M2410.7,992.6 L2524.9,1049.7 "/>
<path class="t" d="M2493.1,995.8 L2575.6,954.6 L2594.7,1018.0 "/>
<path class="t" d="M2493.1,995.8 L2502.7,1033.9 "/>
<path class="t" d="M2398.0,1005.3 L2524.9,1049.7 L2601.0,1018.0 "/>
<path class="t" d="M1941.1,1151.3 L2191.8,1179.8 L2334.5,1176.6 L2601.0,1043.4 "/>
<path class="t" d="M1944.3,1164.0 L2191.8,1189.3 L2334.5,1186.2 L2604.2,1056.1 "/>
<path class="t" d="M1934.8,1192.5 L2191.8,1211.5 L2334.5,1214.7 L2607.4,1078.3 "/>
<path class="t" d="M2191.8,1179.8 L2217.1,1284.5 "/>
<path class="t" d="M2277.4,1183.0 L2293.3,1287.7 "/>
<path class="t" d="M2328.2,1195.7 L2334.5,1284.5 "/>
<path class="d" d="M1972.8,1151.3 L1979.2,1252.8 "/>
<path class="d" d="M2029.9,1157.6 L2033.1,1259.1 "/>
<path class="t" d="M2258.4,1094.2 L2296.4,1132.2 L2302.8,1170.3 "/>
<path class="t" d="M2334.5,1176.6 L2556.6,1037.1 "/>
<path class="t" d="M1826.9,1087.8 L1884.0,1068.8 L1979.2,1119.5 L1953.8,1144.9 L1852.3,1106.9 Z "/>
<path class="t" d="M1871.3,1094.2 L1877.7,1081.5 L1966.5,1125.9 "/>
<path class="t" d="M1823.7,1170.3 L1826.9,1094.2 "/>
<path class="o" d="M2087.1,1106.9 C2090.2,1084.6 2118.8,1075.1 2137.8,1084.6 L2182.2,1138.6 L2156.9,1151.3 C2112.4,1141.8 2088.3,1125.9 2087.1,1106.9 "/>
<path class="t" d="M2055.3,1097.3 L2080.7,1106.9 "/>
<path class="t" d="M2137.8,1081.5 L2220.3,1122.7 L2182.2,1157.6 L2194.9,1164.0 "/>
<path class="t" d="M2144.2,1119.5 L2169.5,1106.9 L2182.2,1138.6 "/>
<circle class="f" cx="2559.8" cy="1097.3" r="3"/>
<text x="2464.6" y="1195.0" transform="rotate(-32.5 2464.6 1183.0)" text-anchor="middle" font-family="Liberation Sans, sans-serif" font-weight="bold" font-style="italic" font-size="76" fill="none" stroke="#222" stroke-width="1.6">makita</text>
<path class="o" d="M1320.5,1223.3 L1342.2,1218.4 L1365.1,1207.6 L1384.4,1206.4 L1403.7,1213.6 L1426.6,1232.9 L1427.8,1264.3 L1488.1,1299.2 L1509.8,1278.7 L1526.7,1283.5 L1541.1,1302.8 L1541.1,1387.2 L1509.8,1406.5 L1391.6,1336.6 L1331.3,1305.3 L1320.5,1281.1Z"/>
<path class="t" d="M1336.2,1237.7 L1488.1,1300.4"/>
<path class="t" d="M1342.2,1218.4 L1348.2,1232.9 L1365.1,1230.5 L1365.1,1207.6"/>
<path class="d" d="M1391.6,1247.4 L1391.6,1336.6"/>
<path class="d" d="M1473.6,1305.3 L1473.6,1377.6"/>
<path class="t" d="M1509.8,1406.5 L1512.2,1329.4 L1505.0,1314.9"/>
<path class="t" d="M1331.3,1276.3 L1391.6,1264.3"/>
<path class="t" d="M1355.5,1312.5 L1391.6,1295.6"/>
<circle class="f" cx="1436.2" cy="1328.2" r="3"/>
<path class="o" d="M1533.9,1095.5 L1550.8,1081.0 L1627.9,1123.2 L1601.4,1141.3 L1538.7,1107.5Z"/>
<path class="o" d="M1559.2,1123.2 L1562.8,1170.2 L1541.1,1182.3 L1541.1,1247.4 L1615.9,1293.2 L1637.6,1295.6 L1642.4,1286.0 L1637.6,1208.8 L1627.9,1123.2"/>
<path class="t" d="M1541.1,1182.3 L1615.9,1213.6 L1615.9,1293.2"/>
<path class="t" d="M1562.8,1170.2 L1627.9,1206.4 L1615.9,1213.6"/>
<path class="t" d="M1555.6,1194.3 L1601.4,1218.4 L1601.4,1269.1 L1555.6,1245.0 L1555.6,1194.3"/>
<path class="t" d="M1618.3,1213.6 L1635.2,1211.2"/>
<circle class="o" cx="1626.7" cy="1281.1" r="6"/>
<circle class="f" cx="1577.3" cy="1246.2" r="3"/>
<path class="o" d="M352.0,1665.0 L353.2,1647.6 L356.7,1630.3 L362.6,1613.2 L370.8,1596.4 L381.3,1580.0 L394.0,1564.2 L408.7,1549.0 L425.5,1534.5 L444.2,1520.8 L464.8,1508.0 L487.0,1496.2 L510.7,1485.4 L535.8,1475.7 L562.2,1467.2 L589.7,1459.9 L618.0,1453.9 L647.1,1449.1 L676.8,1445.7 L706.8,1443.7 L737.0,1443.0 L767.2,1443.7 L797.2,1445.7 L826.9,1449.1 L856.0,1453.9 L884.3,1459.9 L911.8,1467.2 L938.2,1475.7 L963.3,1485.4 L987.0,1496.2 L1009.2,1508.0 L1029.8,1520.8 L1048.5,1534.5 L1065.3,1549.0 L1080.0,1564.2 L1092.7,1580.0 L1103.2,1596.4 L1111.4,1613.2 L1117.3,1630.3 L1120.8,1647.6 L1122.0,1665.0"/>
<path class="o" d="M1122.0,1665.0 L1120.8,1682.4 L1117.3,1699.7 L1111.4,1716.8 L1103.2,1733.6 L1092.7,1750.0 L1080.0,1765.8 L1065.3,1781.0 L1048.5,1795.5 L1029.8,1809.2 L1009.2,1822.0 L987.0,1833.8 L963.3,1844.6 L938.2,1854.3 L911.8,1862.8 L884.3,1870.1 L856.0,1876.1 L826.9,1880.9 L797.2,1884.3 L767.2,1886.3 L737.0,1887.0 L706.8,1886.3 L676.8,1884.3 L647.1,1880.9 L618.0,1876.1 L589.7,1870.1 L562.2,1862.8 L535.8,1854.3 L510.7,1844.6 L487.0,1833.8 L464.8,1822.0 L444.2,1809.2 L425.5,1795.5 L408.7,1781.0 L394.0,1765.8 L381.3,1750.0 L370.8,1733.6 L362.6,1716.8 L356.7,1699.7 L353.2,1682.4 L352.0,1665.0"/>
<ellipse class="t" cx="737" cy="1668" rx="374" ry="212"/>
<line class="l" x1="365" y1="1700" x2="365" y2="2340"/>
<line class="l" x1="1110" y1="1700" x2="1110" y2="2350"/>
<line class="l" x1="352" y1="1665" x2="352" y2="1700"/>
<line class="l" x1="1122" y1="1665" x2="1122" y2="1700"/>
<path class="t" d="M1105,1735 L1105,1745"/>
<circle class="t" cx="474" cy="1857" r="4"/>
<circle class="t" cx="474" cy="1883" r="4"/>
<circle class="t" cx="796" cy="1927" r="4"/>
<circle class="t" cx="893" cy="2211" r="4"/>
<circle class="t" cx="998" cy="1575" r="4"/>
<circle class="t" cx="1000" cy="1600" r="4"/>
<path class="o" d="M1030,1715 L1032,1722"/>
<ellipse class="t" cx="995" cy="2045" rx="40" ry="55" transform="rotate(25 995 2045)"/>
<circle class="t" cx="1000" cy="1987" r="3"/>
<circle class="t" cx="1037" cy="2062" r="3"/>
<circle class="t" cx="957" cy="2110" r="3"/>
<circle class="t" cx="1075" cy="2105" r="3"/>
<path class="o" d="M229.6,2255.7 L365.0,2180.0"/>
<path class="o" d="M149.2,2311.4 L149.2,2437.2 L283.2,2513.5"/>
<path class="d" d="M190.0,2340.0 L190.0,2410.0"/>
<path class="o" d="M138.9,2301.0 C139.2,2298.6 137.4,2293.4 140.9,2286.6 C144.4,2279.8 153.8,2267.6 160.0,2260.0 C166.2,2252.4 174.0,2244.7 178.0,2241.2 C182.0,2237.7 175.6,2236.4 184.2,2239.2 C192.8,2241.9 213.1,2247.7 229.6,2257.7 C246.1,2267.7 267.7,2284.2 283.2,2299.0 C298.7,2313.8 315.9,2338.5 322.4,2346.4"/>
<path class="t" d="M322.4,2346.4 L357.5,2385.6"/>
<path class="o" d="M138.9,2301.0 C140.9,2302.4 143.6,2305.5 151.2,2309.3 C158.8,2313.1 171.8,2314.4 184.2,2323.7 C196.6,2333.0 213.8,2349.9 225.5,2365.0 C237.2,2380.1 246.2,2397.3 254.4,2414.5 C262.6,2431.7 269.9,2451.5 275.0,2468.0 C280.1,2484.5 282.6,2492.9 285.3,2513.5 C288.1,2534.1 288.4,2574.6 291.5,2591.8 C294.6,2609.0 292.8,2607.0 303.8,2616.6 C314.8,2626.2 341.7,2637.9 357.5,2649.6 C373.3,2661.3 381.5,2669.5 398.7,2686.7 C415.9,2703.9 440.0,2734.1 460.6,2752.7 C481.2,2771.2 501.8,2784.2 522.4,2798.0 C543.0,2811.8 556.8,2823.5 584.3,2835.2 C611.8,2846.9 658.3,2861.1 687.4,2868.1 C716.5,2875.1 737.2,2874.8 759.0,2877.0 C780.8,2879.2 798.3,2883.0 818.0,2881.0 C837.7,2879.0 847.5,2875.5 877.0,2865.0 C906.5,2854.5 959.0,2834.5 995.0,2818.0 C1031.0,2801.5 1057.0,2786.3 1093.0,2766.0 C1129.0,2745.7 1182.2,2713.7 1211.0,2696.0 C1239.8,2678.3 1253.5,2669.2 1266.0,2660.0 C1278.5,2650.8 1281.7,2648.8 1286.0,2641.0 C1290.3,2633.2 1291.0,2627.5 1292.0,2613.0 C1293.0,2598.5 1293.7,2573.0 1292.0,2554.0 C1290.3,2535.0 1288.2,2517.3 1282.0,2499.0 C1275.8,2480.7 1264.8,2464.3 1255.0,2444.0 C1245.2,2423.7 1236.8,2401.3 1223.0,2377.0 C1209.2,2352.7 1190.7,2320.0 1172.0,2298.0 C1153.3,2276.0 1121.2,2253.8 1111.0,2245.0"/>
<path class="t" d="M148.0,2290.0 C155.0,2293.3 174.7,2300.8 190.0,2310.0 C205.3,2319.2 225.0,2330.0 240.0,2345.0 C255.0,2360.0 268.3,2379.2 280.0,2400.0 C291.7,2420.8 300.8,2446.7 310.0,2470.0 C319.2,2493.3 330.8,2528.3 335.0,2540.0"/>
<path class="t" d="M254.0,2390.0 L315.0,2350.0"/>
<path class="t" d="M275.0,2380.0 L357.0,2385.0"/>
<path class="t" d="M162.0,2290.0 L230.0,2245.0"/>
<path class="t" d="M240,2262 C260,2250 290,2255 285,2275 C280,2290 260,2290 250,2285"/>
<ellipse class="o" cx="221" cy="2436" rx="15" ry="21" transform="rotate(-20 221 2436)"/>
<ellipse class="t" cx="223" cy="2436" rx="9" ry="13" transform="rotate(-20 223 2436)"/>
<path class="t" d="M190,2410 C195,2460 215,2478 245,2470"/>
<path class="t" d="M283.2,2398.0 C302.4,2409.0 358.8,2442.0 398.7,2464.0 C438.6,2486.0 481.1,2512.1 522.4,2530.0 C563.6,2547.9 606.6,2563.0 646.2,2571.2 C685.8,2579.4 718.2,2576.3 760.0,2579.4 C801.8,2582.5 864.3,2586.6 897.0,2590.0 C929.7,2593.4 946.2,2598.3 956.0,2600.0"/>
<path class="t" d="M291.5,2422.7 C316.2,2437.8 387.8,2488.8 440.0,2513.5 C492.2,2538.2 551.7,2555.4 605.0,2571.2 C658.3,2587.0 711.3,2597.3 760.0,2608.3 C808.7,2619.3 864.3,2632.9 897.0,2637.0 C929.7,2641.1 936.3,2637.0 956.0,2633.0 C975.7,2629.0 992.2,2622.2 1015.0,2613.0 C1037.8,2603.8 1070.2,2589.2 1093.0,2578.0 C1115.8,2566.8 1136.8,2557.8 1152.0,2546.0 C1167.2,2534.2 1176.7,2522.0 1184.0,2507.0 C1191.3,2492.0 1195.3,2475.7 1196.0,2456.0 C1196.7,2436.3 1195.3,2412.0 1188.0,2389.0 C1180.7,2366.0 1164.8,2337.7 1152.0,2318.0 C1139.2,2298.3 1117.8,2278.8 1111.0,2271.0"/>
<path class="t" d="M299.7,2447.5 C329.9,2464.7 431.1,2525.2 481.2,2550.6 C531.2,2576.0 563.5,2585.6 600.0,2600.0 C636.5,2614.4 657.2,2625.0 700.0,2637.0 C742.8,2649.0 807.8,2661.8 857.0,2672.0 C906.2,2682.2 958.2,2695.3 995.0,2698.0 C1031.8,2700.7 1049.8,2696.8 1078.0,2688.0 C1106.2,2679.2 1138.5,2660.2 1164.0,2645.0 C1189.5,2629.8 1215.2,2612.2 1231.0,2597.0 C1246.8,2581.8 1253.7,2569.0 1259.0,2554.0 C1264.3,2539.0 1264.3,2526.7 1263.0,2507.0 C1261.7,2487.3 1253.0,2447.8 1251.0,2436.0"/>
<path class="t" d="M700.0,2656.0 C726.2,2662.7 807.8,2685.5 857.0,2696.0 C906.2,2706.5 957.0,2716.5 995.0,2719.0 C1033.0,2721.5 1055.5,2718.8 1085.0,2711.0 C1114.5,2703.2 1144.3,2687.7 1172.0,2672.0 C1199.7,2656.3 1234.0,2636.7 1251.0,2617.0 C1268.0,2597.3 1270.8,2577.7 1274.0,2554.0 C1277.2,2530.3 1270.7,2488.2 1270.0,2475.0"/>
<path class="t" d="M473.0,2637.2 C494.2,2644.3 562.2,2666.4 600.0,2680.0 C637.8,2693.6 644.0,2707.2 700.0,2719.0 C756.0,2730.8 886.2,2745.7 936.0,2751.0 C985.8,2756.3 972.8,2754.3 999.0,2751.0 C1025.2,2747.7 1047.8,2753.3 1093.0,2731.0 C1138.2,2708.7 1237.8,2643.2 1270.0,2617.0 C1302.2,2590.8 1283.3,2581.2 1286.0,2574.0"/>
<path class="o" d="M473.0,2666.0 C494.2,2674.2 562.2,2700.2 600.0,2715.0 C637.8,2729.8 644.0,2743.2 700.0,2755.0 C756.0,2766.8 870.5,2783.5 936.0,2786.0 C1001.5,2788.5 1049.0,2782.7 1093.0,2770.0 C1137.0,2757.3 1182.2,2720.0 1200.0,2710.0"/>
<path class="t" d="M303.8,2546.4 L460.6,2624.8 L464.7,2657.8 L303.8,2587.7 Z"/>
<path class="t" d="M303.8,2546.4 C300,2560 300,2580 303.8,2587.7"/>
<line class="t" x1="995" y1="2698" x2="999" y2="2751"/>
<line class="t" x1="1081" y1="2688" x2="1087" y2="2731"/>
<line class="t" x1="1164" y1="2645" x2="1166" y2="2660"/>
<line class="t" x1="1231" y1="2597" x2="1241" y2="2645"/>
<line class="t" x1="997" y1="2786" x2="997" y2="2818"/>
<path class="d" d="M356.0,2300.0 C357.2,2313.3 355.7,2355.0 363.0,2380.0 C370.3,2405.0 382.2,2428.3 400.0,2450.0 C417.8,2471.7 441.5,2492.5 470.0,2510.0 C498.5,2527.5 532.7,2543.7 571.0,2555.0 C609.3,2566.3 658.8,2574.8 700.0,2578.0 C741.2,2581.2 778.7,2578.0 818.0,2574.0 C857.3,2570.0 903.2,2561.8 936.0,2554.0 C968.8,2546.2 992.0,2538.8 1015.0,2527.0 C1038.0,2515.2 1058.3,2500.8 1074.0,2483.0 C1089.7,2465.2 1101.5,2439.7 1109.0,2420.0 C1116.5,2400.3 1118.7,2385.3 1119.0,2365.0 C1119.3,2344.7 1112.3,2309.2 1111.0,2298.0"/>
<circle class="o" cx="1147" cy="2862" r="6"/>
<path class="o" d="M1145.0,2838.0 L1150.0,2838.0 L1150.0,2856.0 L1145.0,2856.0Z"/>
<ellipse class="o" cx="2197" cy="1340" rx="80" ry="42"/>
<line class="l" x1="2117" y1="1340" x2="2117" y2="1388"/>
<line class="l" x1="2277" y1="1340" x2="2277" y2="1365"/>
<path class="o" d="M2117,1388 C2140,1398 2170,1402 2215,1400"/>
<path class="o" d="M2102,1388 L2102,1420 C2110,1450 2160,1467 2200,1467 C2250,1467 2288,1450 2290,1420 L2290,1390 C2288,1375 2280,1370 2277,1365"/>
<path class="t" d="M2102,1388 C2120,1410 2160,1428 2215,1428 C2250,1426 2275,1410 2280,1395"/>
<path class="t" d="M2110,1408 C2130,1428 2170,1440 2215,1440 C2250,1438 2275,1425 2285,1410"/>
<path class="t" d="M2100.0,1330.0 L2117.0,1325.0 L2117.0,1385.0 L2102.0,1388.0"/>
<line class="o" x1="2215" y1="1390" x2="2215" y2="1470"/>
<line class="t" x1="2222" y1="1393" x2="2222" y2="1465"/>
<line class="t" x1="2260" y1="1300" x2="2265" y2="1330"/>
<line class="t" x1="2268" y1="1300" x2="2272" y2="1335"/>
<ellipse class="o" cx="2194.7" cy="1577.6" rx="145.6" ry="92.4"/>
<ellipse class="t" cx="2196" cy="1580" rx="138" ry="85"/>
<ellipse class="o" cx="2201.4" cy="1574.6" rx="131" ry="72"/>
<ellipse class="t" cx="2201" cy="1578" rx="126" ry="66"/>
<path class="o" d="M2055.2,1612.1 L2059.3,1705.5 L2088.7,1709.6 L2092.8,1782.7 L2121.2,1768.5 L2151.7,1780.7 L2153.7,1728.9 L2184.2,1731.9 L2186.2,1786.8 L2218.7,1790.8 L2229.8,1807.1 L2232.9,1786.8 L2255.2,1778.6 L2257.3,1717.7 L2280.6,1709.6 L2279.6,1754.3 L2328.3,1746.1 L2332.4,1616.2"/>
<path class="o" d="M2088.7,1644.6 L2088.7,1709.6"/>
<path class="t" d="M2224.8,1671.0 L2225.8,1803.0"/>
<path class="t" d="M2232.9,1671.0 L2232.9,1786.8"/>
<path class="t" d="M2094.8,1669.0 L2096.9,1780.7"/>
<path class="t" d="M2119.2,1656.8 L2121.2,1766.4"/>
<path class="t" d="M2297.9,1652.7 L2299.9,1748.2"/>
<path class="t" d="M2255.2,1669.0 L2257.3,1717.7"/>
<path class="t" d="M2153.7,1728.9 L2182.1,1734.0"/>
<path class="t" d="M2257.3,1717.7 L2279.6,1711.6"/>
<path class="t" d="M2155.7,1731.9 L2180.1,1734.0 L2155.7,1744.1"/>
<path class="t" d="M2258.3,1721.8 L2279.6,1713.7 L2259.3,1734.0"/>
<path class="t" d="M2163.9,1490.3 L2166.9,1646.6"/>
<path class="t" d="M2171.0,1504.5 L2174.0,1648.7"/>
<path class="t" d="M2255.2,1567.5 L2263.4,1693.4"/>
<path class="t" d="M2273.5,1541.1 L2281.6,1689.3"/>
<path class="o" d="M2109.0,1610.1 L2161.8,1571.5 L2190.3,1583.7 L2255.2,1591.8"/>
<path class="t" d="M2084.7,1571.5 L2109.0,1608.1 L2117.2,1632.4"/>
<path class="t" d="M2206.5,1642.6 L2206.5,1616.2 L2232.9,1616.2 L2232.9,1642.6"/>
<path class="t" d="M2121.2,1664.9 L2149.6,1685.2 L2137.5,1693.4 L2157.8,1701.5"/>
<path class="o" d="M2169.9,1677.1 L2186.2,1701.5"/>
<path class="t" d="M2239.0,1693.4 L2283.7,1673.0"/>
<ellipse class="o" cx="2107.0" cy="1522.8" rx="8" ry="6"/>
<ellipse class="o" cx="2314.1" cy="1553.2" rx="8" ry="6"/>
<path class="t" d="M2153.7,1492.3 L2165.9,1496.4"/>
<path class="t" d="M2283.7,1510.6 L2295.8,1516.7"/>
<path class="o" d="M2014.0,1725.0 L2020.0,1725.0 L2021.0,1768.0 L2013.0,1768.0Z"/>
<ellipse class="o" cx="2017" cy="1772" rx="9" ry="5"/>
<path class="l" d="M2018.0,1678.0 L2018.0,1715.0"/>
<path class="l" d="M2018.0,1678.0 L2162.0,1705.0"/>
<path class="l" d="M2162.0,1678.0 L2162.0,1715.0"/>
<ellipse class="o" cx="2194" cy="2026" rx="375" ry="217"/>
<ellipse class="t" cx="2194" cy="2030" rx="368" ry="210"/>
<ellipse class="t" cx="2194" cy="2036" rx="360" ry="202"/>
<path class="o" d="M2552.0,2050.0 L2550.9,2067.3 L2547.6,2084.4 L2542.1,2101.4 L2534.5,2118.0 L2524.7,2134.2 L2513.0,2149.9 L2499.2,2164.9 L2483.6,2179.3 L2466.2,2192.9 L2447.1,2205.6 L2426.5,2217.3 L2404.4,2228.0 L2381.1,2237.6 L2356.5,2246.0 L2331.0,2253.3 L2304.6,2259.2 L2277.6,2263.9 L2250.0,2267.3 L2222.1,2269.3 L2194.0,2270.0 L2165.9,2269.3 L2138.0,2267.3 L2110.4,2263.9 L2083.4,2259.2 L2057.0,2253.3 L2031.5,2246.0 L2006.9,2237.6 L1983.6,2228.0 L1961.5,2217.3 L1940.9,2205.6 L1921.8,2192.9 L1904.4,2179.3 L1888.8,2164.9 L1875.0,2149.9 L1863.3,2134.2 L1853.5,2118.0 L1845.9,2101.4 L1840.4,2084.4 L1837.1,2067.3 L1836.0,2050.0"/>
<path class="t" d="M2546.0,2058.0 L2544.9,2075.1 L2541.7,2092.1 L2536.3,2108.9 L2528.8,2125.4 L2519.2,2141.4 L2507.6,2157.0 L2494.1,2171.9 L2478.8,2186.1 L2461.7,2199.6 L2442.9,2212.1 L2422.6,2223.8 L2400.9,2234.4 L2377.9,2243.9 L2353.8,2252.2 L2328.7,2259.4 L2302.8,2265.3 L2276.2,2270.0 L2249.1,2273.3 L2221.6,2275.3 L2194.0,2276.0 L2166.4,2275.3 L2138.9,2273.3 L2111.8,2270.0 L2085.2,2265.3 L2059.3,2259.4 L2034.2,2252.2 L2010.1,2243.9 L1987.1,2234.4 L1965.4,2223.8 L1945.1,2212.1 L1926.3,2199.6 L1909.2,2186.1 L1893.9,2171.9 L1880.4,2157.0 L1868.8,2141.4 L1859.2,2125.4 L1851.7,2108.9 L1846.3,2092.1 L1843.1,2075.1 L1842.0,2058.0"/>
<line class="l" x1="1836" y1="2026" x2="1842" y2="2100"/>
<line class="l" x1="2552" y1="2026" x2="2546" y2="2100"/>
<ellipse class="o" cx="2194" cy="2057" rx="264" ry="149"/>
<ellipse class="t" cx="2194" cy="2060" rx="258" ry="143"/>
<ellipse class="o" cx="2194" cy="2064" rx="199" ry="114"/>
<ellipse class="t" cx="2194" cy="2067" rx="194" ry="109"/>
<line class="t" x1="2008.0" y1="2025.5" x2="2008.0" y2="2103.7"/>
<line class="t" x1="2012.0" y1="2026.5" x2="2012.0" y2="2102.7"/>
<line class="t" x1="2023.5" y1="2008.2" x2="2023.5" y2="2121.6"/>
<line class="t" x1="2027.5" y1="2009.2" x2="2027.5" y2="2120.6"/>
<line class="t" x1="2039.0" y1="1996.1" x2="2039.0" y2="2134.1"/>
<line class="t" x1="2043.0" y1="1997.1" x2="2043.0" y2="2133.1"/>
<line class="t" x1="2054.5" y1="1986.8" x2="2054.5" y2="2143.7"/>
<line class="t" x1="2058.5" y1="1987.8" x2="2058.5" y2="2142.7"/>
<line class="t" x1="2070.0" y1="1979.3" x2="2070.0" y2="2151.4"/>
<line class="t" x1="2074.0" y1="1980.3" x2="2074.0" y2="2150.4"/>
<line class="t" x1="2085.5" y1="1973.2" x2="2085.5" y2="2157.7"/>
<line class="t" x1="2089.5" y1="1974.2" x2="2089.5" y2="2156.7"/>
<line class="t" x1="2101.0" y1="1968.3" x2="2101.0" y2="2162.8"/>
<line class="t" x1="2105.0" y1="1969.3" x2="2105.0" y2="2161.8"/>
<line class="t" x1="2116.5" y1="1964.3" x2="2116.5" y2="2166.9"/>
<line class="t" x1="2120.5" y1="1965.3" x2="2120.5" y2="2165.9"/>
<line class="t" x1="2132.0" y1="1961.1" x2="2132.0" y2="2170.2"/>
<line class="t" x1="2136.0" y1="1962.1" x2="2136.0" y2="2169.2"/>
<line class="t" x1="2147.5" y1="1958.7" x2="2147.5" y2="2172.6"/>
<line class="t" x1="2151.5" y1="1959.7" x2="2151.5" y2="2171.6"/>
<line class="t" x1="2163.0" y1="1957.0" x2="2163.0" y2="2174.4"/>
<line class="t" x1="2167.0" y1="1958.0" x2="2167.0" y2="2173.4"/>
<line class="t" x1="2178.5" y1="1956.0" x2="2178.5" y2="2175.4"/>
<line class="t" x1="2182.5" y1="1957.0" x2="2182.5" y2="2174.4"/>
<line class="t" x1="2194.0" y1="1955.7" x2="2194.0" y2="2175.7"/>
<line class="t" x1="2198.0" y1="1956.7" x2="2198.0" y2="2174.7"/>
<line class="t" x1="2209.5" y1="1956.0" x2="2209.5" y2="2175.4"/>
<line class="t" x1="2213.5" y1="1957.0" x2="2213.5" y2="2174.4"/>
<line class="t" x1="2225.0" y1="1957.0" x2="2225.0" y2="2174.4"/>
<line class="t" x1="2229.0" y1="1958.0" x2="2229.0" y2="2173.4"/>
<line class="t" x1="2240.5" y1="1958.7" x2="2240.5" y2="2172.6"/>
<line class="t" x1="2244.5" y1="1959.7" x2="2244.5" y2="2171.6"/>
<line class="t" x1="2256.0" y1="1961.1" x2="2256.0" y2="2170.2"/>
<line class="t" x1="2260.0" y1="1962.1" x2="2260.0" y2="2169.2"/>
<line class="t" x1="2271.5" y1="1964.3" x2="2271.5" y2="2166.9"/>
<line class="t" x1="2275.5" y1="1965.3" x2="2275.5" y2="2165.9"/>
<line class="t" x1="2287.0" y1="1968.3" x2="2287.0" y2="2162.8"/>
<line class="t" x1="2291.0" y1="1969.3" x2="2291.0" y2="2161.8"/>
<line class="t" x1="2302.5" y1="1973.2" x2="2302.5" y2="2157.7"/>
<line class="t" x1="2306.5" y1="1974.2" x2="2306.5" y2="2156.7"/>
<line class="t" x1="2318.0" y1="1979.3" x2="2318.0" y2="2151.4"/>
<line class="t" x1="2322.0" y1="1980.3" x2="2322.0" y2="2150.4"/>
<line class="t" x1="2333.5" y1="1986.8" x2="2333.5" y2="2143.7"/>
<line class="t" x1="2337.5" y1="1987.8" x2="2337.5" y2="2142.7"/>
<line class="t" x1="2349.0" y1="1996.1" x2="2349.0" y2="2134.1"/>
<line class="t" x1="2353.0" y1="1997.1" x2="2353.0" y2="2133.1"/>
<line class="t" x1="2364.5" y1="2008.2" x2="2364.5" y2="2121.6"/>
<line class="t" x1="2368.5" y1="2009.2" x2="2368.5" y2="2120.6"/>
<line class="t" x1="2380.0" y1="2025.5" x2="2380.0" y2="2103.7"/>
<line class="t" x1="2384.0" y1="2026.5" x2="2384.0" y2="2102.7"/>
<line class="o" x1="2168" y1="1965" x2="2168" y2="2175"/>
<line class="o" x1="2220" y1="1965" x2="2220" y2="2175"/>
<path class="o" d="M2143,1870 C2143,1850 2150,1846 2165,1846 L2225,1846 C2240,1846 2246,1850 2246,1870 L2246,1890 C2240,1898 2150,1898 2143,1890 Z"/>
<path class="o" d="M2143,2222 C2145,2210 2155,2208 2170,2208 L2220,2208 C2235,2208 2245,2212 2246,2225"/>
<path class="t" d="M1844.0,2025.0 L1919.0,2025.0 L1919.0,2085.0 L1844.0,2085.0Z"/>
<line class="t" x1="1881" y1="2015" x2="1881" y2="2085"/>
<line class="t" x1="1887" y1="2015" x2="1887" y2="2085"/>
<line class="t" x1="1844" y1="2055" x2="1919" y2="2055"/>
<path class="t" d="M2468.0,2025.0 L2543.0,2025.0 L2543.0,2085.0 L2468.0,2085.0Z"/>
<line class="t" x1="2505" y1="2015" x2="2505" y2="2085"/>
<line class="t" x1="2511" y1="2015" x2="2511" y2="2085"/>
<line class="t" x1="2468" y1="2055" x2="2543" y2="2055"/>
<line class="l" x1="1954" y1="2225" x2="1978" y2="2333"/>
<line class="l" x1="2434" y1="2225" x2="2410" y2="2333"/>
<line class="t" x1="1956.0" y1="2220.6" x2="1989.0" y2="2379.6"/>
<line class="t" x1="1961.0" y1="2223.4" x2="1993.0" y2="2385.2"/>
<line class="t" x1="1971.9" y1="2229.1" x2="2002.7" y2="2396.5"/>
<line class="t" x1="1976.9" y1="2231.6" x2="2006.7" y2="2400.5"/>
<line class="t" x1="1987.7" y1="2236.7" x2="2016.3" y2="2409.1"/>
<line class="t" x1="1992.7" y1="2238.8" x2="2020.3" y2="2412.3"/>
<line class="t" x1="2003.6" y1="2243.4" x2="2030.0" y2="2419.3"/>
<line class="t" x1="2008.6" y1="2245.3" x2="2034.0" y2="2422.0"/>
<line class="t" x1="2019.5" y1="2249.3" x2="2043.7" y2="2427.8"/>
<line class="t" x1="2024.5" y1="2251.0" x2="2047.7" y2="2430.0"/>
<line class="t" x1="2035.3" y1="2254.6" x2="2057.3" y2="2435.0"/>
<line class="t" x1="2040.3" y1="2256.1" x2="2061.3" y2="2436.8"/>
<line class="t" x1="2051.2" y1="2259.3" x2="2071.0" y2="2441.0"/>
<line class="t" x1="2056.2" y1="2260.6" x2="2075.0" y2="2442.7"/>
<line class="t" x1="2067.1" y1="2263.3" x2="2084.7" y2="2446.2"/>
<line class="t" x1="2072.1" y1="2264.5" x2="2088.7" y2="2447.6"/>
<line class="t" x1="2082.9" y1="2266.9" x2="2098.3" y2="2450.6"/>
<line class="t" x1="2087.9" y1="2267.9" x2="2102.3" y2="2451.8"/>
<line class="t" x1="2098.8" y1="2269.9" x2="2112.0" y2="2454.3"/>
<line class="t" x1="2103.8" y1="2270.7" x2="2116.0" y2="2455.3"/>
<line class="t" x1="2114.7" y1="2272.4" x2="2125.7" y2="2457.3"/>
<line class="t" x1="2119.7" y1="2273.1" x2="2129.7" y2="2458.1"/>
<line class="t" x1="2130.5" y1="2274.4" x2="2139.3" y2="2459.8"/>
<line class="t" x1="2135.5" y1="2275.0" x2="2143.3" y2="2460.4"/>
<line class="t" x1="2146.4" y1="2276.0" x2="2153.0" y2="2461.6"/>
<line class="t" x1="2151.4" y1="2276.4" x2="2157.0" y2="2462.1"/>
<line class="t" x1="2162.3" y1="2277.1" x2="2166.7" y2="2463.0"/>
<line class="t" x1="2167.3" y1="2277.4" x2="2170.7" y2="2463.2"/>
<line class="t" x1="2178.1" y1="2277.8" x2="2180.3" y2="2463.7"/>
<line class="t" x1="2183.1" y1="2277.9" x2="2184.3" y2="2463.9"/>
<line class="t" x1="2194.0" y1="2278.0" x2="2194.0" y2="2464.0"/>
<line class="t" x1="2199.0" y1="2278.0" x2="2198.0" y2="2464.0"/>
<line class="t" x1="2209.9" y1="2277.8" x2="2207.7" y2="2463.7"/>
<line class="t" x1="2214.9" y1="2277.6" x2="2211.7" y2="2463.6"/>
<line class="t" x1="2225.7" y1="2277.1" x2="2221.3" y2="2463.0"/>
<line class="t" x1="2230.7" y1="2276.8" x2="2225.3" y2="2462.6"/>
<line class="t" x1="2241.6" y1="2276.0" x2="2235.0" y2="2461.6"/>
<line class="t" x1="2246.6" y1="2275.6" x2="2239.0" y2="2461.2"/>
<line class="t" x1="2257.5" y1="2274.4" x2="2248.7" y2="2459.8"/>
<line class="t" x1="2262.5" y1="2273.8" x2="2252.7" y2="2459.1"/>
<line class="t" x1="2273.3" y1="2272.4" x2="2262.3" y2="2457.3"/>
<line class="t" x1="2278.3" y1="2271.7" x2="2266.3" y2="2456.5"/>
<line class="t" x1="2289.2" y1="2269.9" x2="2276.0" y2="2454.3"/>
<line class="t" x1="2294.2" y1="2269.0" x2="2280.0" y2="2453.3"/>
<line class="t" x1="2305.1" y1="2266.9" x2="2289.7" y2="2450.6"/>
<line class="t" x1="2310.1" y1="2265.8" x2="2293.7" y2="2449.4"/>
<line class="t" x1="2320.9" y1="2263.3" x2="2303.3" y2="2446.2"/>
<line class="t" x1="2325.9" y1="2262.1" x2="2307.3" y2="2444.8"/>
<line class="t" x1="2336.8" y1="2259.3" x2="2317.0" y2="2441.0"/>
<line class="t" x1="2341.8" y1="2257.9" x2="2321.0" y2="2439.4"/>
<line class="t" x1="2352.7" y1="2254.6" x2="2330.7" y2="2435.0"/>
<line class="t" x1="2357.7" y1="2253.0" x2="2334.7" y2="2433.0"/>
<line class="t" x1="2368.5" y1="2249.3" x2="2344.3" y2="2427.8"/>
<line class="t" x1="2373.5" y1="2247.5" x2="2348.3" y2="2425.5"/>
<line class="t" x1="2384.4" y1="2243.4" x2="2358.0" y2="2419.3"/>
<line class="t" x1="2389.4" y1="2241.3" x2="2362.0" y2="2416.6"/>
<line class="t" x1="2400.3" y1="2236.7" x2="2371.7" y2="2409.1"/>
<line class="t" x1="2405.3" y1="2234.4" x2="2375.7" y2="2405.7"/>
<line class="t" x1="2416.1" y1="2229.1" x2="2385.3" y2="2396.5"/>
<line class="t" x1="2421.1" y1="2226.5" x2="2389.3" y2="2392.1"/>
<line class="t" x1="2432.0" y1="2220.6" x2="2399.0" y2="2379.6"/>
<line class="t" x1="2437.0" y1="2217.7" x2="2403.0" y2="2373.2"/>
<path class="o" d="M1972.0,2333.0 L1972.3,2337.7 L1973.2,2347.3 L1974.7,2350.9 L1976.9,2361.5 L1979.6,2364.0 L1982.9,2375.3 L1986.7,2376.7 L1991.2,2388.7 L1996.2,2388.8 L2001.7,2401.5 L2007.8,2400.4 L2014.4,2413.5 L2021.5,2411.2 L2029.0,2424.7 L2037.0,2421.1 L2045.5,2434.8 L2054.3,2430.0 L2063.5,2443.8 L2073.1,2437.9 L2083.0,2451.6 L2093.2,2444.5 L2103.7,2458.2 L2114.4,2449.9 L2125.4,2463.3 L2136.5,2454.1 L2147.8,2467.0 L2159.3,2456.8 L2170.8,2469.2 L2182.4,2458.2 L2194.0,2470.0 L2205.6,2458.2 L2217.2,2469.2 L2228.7,2456.8 L2240.2,2467.0 L2251.5,2454.1 L2262.6,2463.3 L2273.6,2449.9 L2284.3,2458.2 L2294.8,2444.5 L2305.0,2451.6 L2314.9,2437.9 L2324.5,2443.8 L2333.7,2430.0 L2342.5,2434.8 L2351.0,2421.1 L2359.0,2424.7 L2366.5,2411.2 L2373.6,2413.5 L2380.2,2400.4 L2386.3,2401.5 L2391.8,2388.8 L2396.8,2388.7 L2401.3,2376.7 L2405.1,2375.3 L2408.4,2364.0 L2411.1,2361.5 L2413.3,2350.9 L2414.8,2347.3 L2415.7,2337.7 L2416.0,2333.0"/>
<line class="o" x1="2168" y1="2276" x2="2172" y2="2470"/>
<line class="o" x1="2222" y1="2276" x2="2218" y2="2470"/>
<line class="t" x1="2194" y1="2278" x2="2194" y2="2475"/>
<ellipse class="o" cx="2195" cy="2622" rx="252" ry="137"/>
<ellipse class="t" cx="2196" cy="2632" rx="231" ry="126"/>
<line class="l" x1="1943" y1="2622" x2="1943" y2="2910"/>
<line class="l" x1="2447" y1="2622" x2="2447" y2="2900"/>
<path class="o" d="M2447.0,2910.0 L2446.2,2920.8 L2443.9,2931.6 L2440.0,2942.2 L2434.7,2952.6 L2427.8,2962.8 L2419.5,2972.7 L2409.9,2982.1 L2398.9,2991.1 L2386.6,2999.6 L2373.2,3007.6 L2358.7,3014.9 L2343.1,3021.6 L2326.7,3027.7 L2309.4,3033.0 L2291.4,3037.5 L2272.9,3041.2 L2253.8,3044.2 L2234.4,3046.3 L2214.8,3047.6 L2195.0,3048.0 L2175.2,3047.6 L2155.6,3046.3 L2136.2,3044.2 L2117.1,3041.2 L2098.6,3037.5 L2080.6,3033.0 L2063.3,3027.7 L2046.9,3021.6 L2031.3,3014.9 L2016.8,3007.6 L2003.4,2999.6 L1991.1,2991.1 L1980.1,2982.1 L1970.5,2972.7 L1962.2,2962.8 L1955.3,2952.6 L1950.0,2942.2 L1946.1,2931.6 L1943.8,2920.8 L1943.0,2910.0"/>
<line class="o" x1="2028" y1="2535" x2="2028" y2="2715"/>
<path class="t" d="M2002.0,2520.0 L2012.0,2512.0 L2016.0,2528.0"/>
<ellipse class="o" cx="2194" cy="3297" rx="391" ry="235"/>
<ellipse class="t" cx="2194" cy="3300" rx="378" ry="222"/>
<ellipse class="o" cx="2194" cy="3304" rx="370" ry="214"/>
<ellipse class="t" cx="2194" cy="3310" rx="362" ry="206"/>
<path class="d" d="M1840,3310 C1850,3180 2000,3140 2194,3140 C2390,3140 2545,3180 2550,3310"/>
<line class="l" x1="1840" y1="3402" x2="1885" y2="3745"/>
<line class="l" x1="2555" y1="3402" x2="2510" y2="3745"/>
<path class="o" d="M1880,3730 L1880,3770 C1890,3900 2030,3967 2194,3967 C2360,3967 2500,3900 2510,3770 L2510,3730"/>
<path class="d" d="M1890,3765 C1920,3870 2050,3915 2194,3915 C2340,3915 2470,3870 2500,3765"/>
<path class="o" d="M1354,2044 C1500,2037 1682,1973 1735,1824 L1769,1847 C1776,1870 1778,1895 1774,1927 L1751,2201 C1745,2240 1740,2260 1728,2274 C1680,2330 1580,2392 1518,2395 C1505,2394 1495,2390 1491,2384 C1480,2372 1470,2360 1463,2347 Z"/>
<path class="t" d="M1390,2065 L1490,2073 L1776,1910"/>
<path class="t" d="M1390,2065 L1560,2360 C1600,2360 1680,2320 1722,2270"/>
<path class="t" d="M1468,2073 L1546,2375"/>
<path class="t" d="M1508,2072 L1565,2350"/>
<path class="d" d="M1764,1925 L1738,2200"/>
<ellipse class="o" cx="1646" cy="2206" rx="78" ry="103" transform="rotate(22 1646 2206)"/>
<ellipse class="t" cx="1652" cy="2204" rx="70" ry="97" transform="rotate(22 1652 2204)"/>
<ellipse cx="1816" cy="2305" rx="43" ry="62" transform="rotate(25 1816 2305)" fill="none" stroke="#111" stroke-width="5"/>
<path class="o" d="M1709.0,2697.1 L1705.4,2695.7 L1702.0,2693.9 L1698.8,2691.9 L1695.7,2689.7 L1692.9,2687.2 L1690.3,2684.5 L1687.9,2681.5 L1685.7,2678.3 L1683.8,2674.9 L1682.1,2671.2 L1680.6,2667.4 L1679.4,2663.3 L1678.4,2659.1 L1677.7,2654.8 L1677.2,2650.2 L1677.0,2645.6 L1677.1,2640.8 L1677.4,2635.8 L1677.9,2630.8 L1678.7,2625.7 L1679.8,2620.5 L1681.1,2615.2 L1682.6,2609.9 L1684.4,2604.6 L1686.4,2599.3 L1688.7,2593.9 L1691.1,2588.6 L1693.8,2583.2 L1696.7,2578.0 L1699.8,2572.7 L1703.1,2567.6 L1706.6,2562.5 L1710.2,2557.6 L1714.0,2552.7 L1718.0,2548.0 L1722.1,2543.4 L1726.4,2538.9 L1730.7,2534.6 L1735.2,2530.5 L1739.7,2526.6 L1744.4,2522.8 L1749.1,2519.3 L1753.9,2516.0 L1758.7,2512.9 L1763.5,2510.1 L1768.4,2507.4 L1773.2,2505.1 L1778.1,2503.0 L1782.9,2501.1 L1787.7,2499.5 L1792.5,2498.2 L1797.2,2497.2 L1801.8,2496.4 L1806.3,2495.9 L1810.8,2495.7 L1815.1,2495.8 L1819.3,2496.1 L1823.3,2496.8 L1827.2,2497.7"/>
<ellipse class="o" cx="1802" cy="2607" rx="118" ry="72" transform="rotate(-51 1802 2607)"/>
<ellipse class="t" cx="1802" cy="2609" rx="112" ry="66" transform="rotate(-51 1802 2609)"/>
<ellipse class="o" cx="1823" cy="2617" rx="86" ry="60" transform="rotate(-51 1823 2617)"/>
<ellipse class="t" cx="1826" cy="2620" rx="80" ry="55" transform="rotate(-51 1826 2620)"/>
<ellipse class="o" cx="1831" cy="2625" rx="70" ry="50" transform="rotate(-53 1831 2625)"/>
<path class="t" d="M1745.3,2583.5 L1778.8,2540.9 L1789.4,2553.1 L1757.5,2595.7 L1745.3,2583.5"/>
<path class="t" d="M1751.4,2586.6 L1783.3,2547.0"/>
<path class="t" d="M1832.1,2510.5 L1839.7,2524.2 L1870.1,2530.3 L1864.1,2516.5"/>
<path class="t" d="M1731.6,2658.2 L1745.3,2661.2 L1754.4,2693.2 L1740.7,2696.2"/>
<path class="t" d="M1841.2,2638.4 L1851.9,2647.5"/>
<path class="o" d="M1787.9,2638.4 C1797.0,2601.8 1812.3,2586.6 1819.9,2577.5"/>
<ellipse class="o" cx="1815" cy="2955" rx="96" ry="135" transform="rotate(-22 1815 2955)"/>
<ellipse class="t" cx="1818" cy="2958" rx="88" ry="127" transform="rotate(-22 1818 2958)"/>
<ellipse class="t" cx="1803" cy="2965" rx="45" ry="62" transform="rotate(-22 1803 2965)"/>
<path class="t" d="M1866.2,2970.7 L1902.0,2981.7 L1901.1,2996.5 L1864.9,2984.1 L1866.2,2970.7"/>
<path class="t" d="M1870.9,2979.8 L1896.7,2987.2"/>
<path class="t" d="M1830.5,3020.0 L1841.3,3065.4 L1829.5,3065.4 L1819.5,3019.4 L1830.5,3020.0"/>
<path class="t" d="M1826.0,3026.6 L1834.2,3059.2"/>
<path class="t" d="M1773.4,2979.4 L1744.2,2996.5 L1737.9,2981.8 L1767.9,2965.7 L1773.4,2979.4"/>
<path class="t" d="M1765.9,2974.4 L1745.2,2987.2"/>
<path class="t" d="M1773.8,2905.1 L1745.0,2870.2 L1752.8,2861.1 L1781.4,2897.2 L1773.8,2905.1"/>
<path class="t" d="M1773.6,2895.4 L1752.6,2870.7"/>
<path class="t" d="M1831.2,2899.8 L1842.5,2861.1 L1853.7,2870.2 L1841.4,2908.6 L1831.2,2899.8"/>
<path class="t" d="M1838.5,2898.8 L1846.2,2870.7"/>
<path class="t" d="M1785,2915 L1800,2905 L1808,2920 L1830,2912 L1836,2930 L1850,2945 L1840,2960 L1846,2985 L1830,2995 L1815,3010 L1798,3000 L1780,2995 L1784,2975 L1770,2955 L1780,2935 Z"/>
<path class="l" d="M1740.0,2990.0 L1722.0,3025.0 L1850.0,3140.0 L1830.0,3185.0"/>
<ellipse class="o" cx="1750" cy="3190" rx="30" ry="38" transform="rotate(-15 1750 3190)"/>
<ellipse class="o" cx="1750" cy="3192" rx="10" ry="14" transform="rotate(-15 1750 3192)"/>
<ellipse class="o" cx="1805" cy="3165" rx="22" ry="28" transform="rotate(-15 1805 3165)"/>
<ellipse class="t" cx="1806" cy="3167" rx="12" ry="16" transform="rotate(-15 1806 3167)"/>
<path class="o" d="M243.0,3277.0 C260.1,3286.5 307.6,3313.3 345.6,3334.0 C383.6,3354.7 429.1,3382.2 471.0,3401.0 C512.9,3419.8 555.2,3434.2 597.0,3447.0 C638.8,3459.8 694.8,3471.9 722.0,3478.0 C749.2,3484.1 737.8,3481.0 760.0,3483.5 C782.2,3486.0 824.3,3491.2 855.0,3493.0 C885.7,3494.8 914.8,3497.3 944.0,3494.6 C973.2,3491.9 1002.5,3486.3 1030.0,3477.0 C1057.5,3467.7 1090.5,3448.5 1109.0,3439.0 C1127.5,3429.5 1125.8,3429.8 1141.0,3420.0 C1156.2,3410.2 1187.2,3392.5 1200.0,3380.0 C1212.8,3367.5 1216.0,3356.7 1218.0,3345.0 C1220.0,3333.3 1219.8,3328.2 1212.0,3310.0 C1204.2,3291.8 1192.5,3263.3 1171.0,3236.0 C1149.5,3208.7 1117.2,3174.7 1083.0,3146.0 C1048.8,3117.3 1006.2,3090.8 966.0,3064.0 C925.8,3037.2 862.7,2998.2 842.0,2985.0"/>
<path class="o" d="M243.0,3340.0 C260.1,3348.0 307.6,3370.2 345.6,3388.0 C383.6,3405.8 429.1,3428.8 471.0,3447.0 C512.9,3465.2 555.2,3482.3 597.0,3497.0 C638.8,3511.7 671.0,3525.3 722.0,3535.0 C773.0,3544.7 865.0,3551.7 903.0,3555.0 C941.0,3558.3 926.3,3559.0 950.0,3555.0 C973.7,3551.0 1015.8,3541.8 1045.0,3531.0 C1074.2,3520.2 1098.5,3505.3 1125.0,3490.0 C1151.5,3474.7 1187.2,3450.7 1204.0,3439.0 C1220.8,3427.3 1219.8,3427.0 1226.0,3420.0 C1232.2,3413.0 1238.5,3410.5 1241.0,3397.0 C1243.5,3383.5 1242.8,3360.8 1241.0,3339.0 C1239.2,3317.2 1239.2,3292.8 1230.0,3266.0 C1220.8,3239.2 1205.5,3207.3 1186.0,3178.0 C1166.5,3148.7 1144.7,3117.8 1113.0,3090.0 C1081.3,3062.2 1037.0,3036.5 996.0,3011.0 C955.0,2985.5 888.5,2949.3 867.0,2937.0"/>
<path class="o" d="M243.0,3277.0 L243.0,3340.0"/>
<path class="o" d="M867.0,2937.0 L852.0,2932.0 L840.5,2933.0 L842.0,2985.0"/>
<path class="t" d="M855.0,2940.0 L856.0,2982.0"/>
<path class="t" d="M243.0,3300.0 C281.0,3319.6 391.2,3384.7 471.0,3417.5 C550.8,3450.3 653.8,3481.3 722.0,3497.0 C790.2,3512.7 843.0,3508.7 880.0,3511.7 C917.0,3514.7 916.5,3518.1 944.0,3515.0 C971.5,3511.9 1015.7,3503.0 1045.0,3493.0 C1074.3,3483.0 1093.3,3471.3 1120.0,3455.0 C1146.7,3438.7 1190.8,3405.0 1205.0,3395.0"/>
<path class="t" d="M243.0,3306.5 C281.0,3326.4 391.2,3393.1 471.0,3426.0 C550.8,3458.9 653.8,3488.7 722.0,3504.0 C790.2,3519.3 843.0,3515.2 880.0,3518.0 C917.0,3520.8 916.5,3524.0 944.0,3521.0 C971.5,3518.0 1014.8,3509.8 1045.0,3500.0 C1075.2,3490.2 1097.5,3478.7 1125.0,3462.0 C1152.5,3445.3 1195.8,3410.3 1210.0,3400.0"/>
<path class="t" d="M870.0,2958.0 C891.7,2970.0 960.0,3004.7 1000.0,3030.0 C1040.0,3055.3 1078.3,3078.3 1110.0,3110.0 C1141.7,3141.7 1171.3,3183.3 1190.0,3220.0 C1208.7,3256.7 1216.7,3311.7 1222.0,3330.0"/>
<path class="t" d="M868.0,2975.0 C888.3,2986.7 952.2,3020.0 990.0,3045.0 C1027.8,3070.0 1064.2,3094.2 1095.0,3125.0 C1125.8,3155.8 1156.2,3195.8 1175.0,3230.0 C1193.8,3264.2 1202.5,3313.3 1208.0,3330.0"/>
<path class="t" d="M870,2958 C860,2960 860,2972 868,2975"/>
<line class="t" x1="945" y1="3494" x2="945" y2="3555"/>
<path class="t" d="M1036.0,3477.0 L1047.0,3488.0 L1047.0,3531.0"/>
<line class="t" x1="1200" y1="3380" x2="1241" y2="3392"/>
<line class="o" x1="889.5" y1="3718.4" x2="1449.5" y2="3393.4"/>
<line class="o" x1="870.5" y1="3685.6" x2="1430.5" y2="3360.6"/>
<ellipse class="o" cx="880" cy="3702" rx="14" ry="20" transform="rotate(-30 880 3702)"/>
<ellipse class="t" cx="901.6224274694176" cy="3689.451269772213" rx="14" ry="20" transform="rotate(-30 901.6224274694176 3689.451269772213)"/>
<ellipse class="o" cx="1440" cy="3377" rx="8" ry="19" transform="rotate(-30 1440 3377)"/>
<ellipse class="t" cx="1429.6212348146796" cy="3383.023390509338" rx="8" ry="19" transform="rotate(-30 1429.6212348146796 3383.023390509338)"/>
<line class="l" x1="840" y1="3727" x2="868" y2="3710"/>
<line class="l" x1="1455" y1="3370" x2="1520" y2="3330"/>
<path class="o" d="M670.8,3618.3 L676.5,3616.6 L682.4,3615.4 L688.5,3614.7 L694.7,3614.5 L701.0,3614.8 L707.5,3615.6 L714.0,3616.8 L720.6,3618.6 L727.3,3620.8 L734.0,3623.4 L740.7,3626.6 L747.4,3630.1 L754.0,3634.2 L760.7,3638.6 L767.3,3643.5 L773.8,3648.8 L780.2,3654.5 L786.5,3660.5 L792.7,3667.0 L798.7,3673.7 L804.6,3680.8 L810.3,3688.2 L815.7,3695.9 L821.0,3703.8 L826.1,3712.0 L830.9,3720.4 L835.5,3729.0 L839.8,3737.7 L843.9,3746.6 L847.6,3755.7 L851.1,3764.8 L854.3,3774.0 L857.1,3783.3 L859.6,3792.6 L861.8,3801.9 L863.7,3811.1 L865.2,3820.3 L866.4,3829.4 L867.2,3838.5 L867.7,3847.3 L867.8,3856.1 L867.6,3864.7 L867.0,3873.0 L866.1,3881.2 L864.9,3889.1 L863.3,3896.7 L861.3,3904.0 L859.0,3911.1 L856.4,3917.8 L853.5,3924.2 L850.3,3930.2 L846.7,3935.8 L842.9,3941.0 L838.8,3945.8 L834.4,3950.2 L829.7,3954.2 L824.8,3957.7 L819.7,3960.8 L814.4,3963.4"/>
<path class="t" d="M655.1,3624.1 L660.8,3622.5 L666.7,3621.3 L672.8,3620.6 L679.0,3620.4 L685.3,3620.7 L691.8,3621.4 L698.3,3622.7 L704.9,3624.4 L711.5,3626.6 L718.2,3629.3 L724.9,3632.4 L731.6,3636.0 L738.3,3640.0 L745.0,3644.5 L751.5,3649.4 L758.0,3654.6 L764.5,3660.3 L770.8,3666.4 L776.9,3672.8 L783.0,3679.6 L788.8,3686.6 L794.5,3694.0 L800.0,3701.7 L805.3,3709.6 L810.4,3717.8 L815.2,3726.2 L819.8,3734.8 L824.1,3743.6 L828.2,3752.5 L831.9,3761.5 L835.4,3770.7 L838.5,3779.9 L841.4,3789.1 L843.9,3798.4 L846.1,3807.7 L848.0,3816.9 L849.5,3826.1 L850.7,3835.3 L851.5,3844.3 L852.0,3853.2 L852.1,3861.9 L851.9,3870.5 L851.3,3878.9 L850.4,3887.0 L849.1,3894.9 L847.5,3902.5 L845.6,3909.9 L843.3,3916.9 L840.7,3923.6 L837.8,3930.0 L834.5,3936.0 L831.0,3941.6 L827.2,3946.9 L823.0,3951.7 L818.7,3956.1 L814.0,3960.0 L809.1,3963.6 L804.0,3966.6 L798.6,3969.2"/>
<path class="t" d="M640.9,3629.4 L646.7,3627.7 L652.6,3626.5 L658.6,3625.8 L664.8,3625.6 L671.2,3625.9 L677.6,3626.7 L684.1,3627.9 L690.7,3629.7 L697.4,3631.9 L704.1,3634.5 L710.8,3637.7 L717.5,3641.2 L724.2,3645.3 L730.8,3649.7 L737.4,3654.6 L743.9,3659.9 L750.3,3665.6 L756.6,3671.6 L762.8,3678.1 L768.8,3684.8 L774.7,3691.9 L780.4,3699.3 L785.9,3707.0 L791.2,3714.9 L796.2,3723.1 L801.1,3731.5 L805.7,3740.1 L810.0,3748.8 L814.0,3757.7 L817.8,3766.8 L821.2,3775.9 L824.4,3785.1 L827.2,3794.4 L829.8,3803.7 L832.0,3812.9 L833.8,3822.2 L835.3,3831.4 L836.5,3840.5 L837.4,3849.5 L837.8,3858.4 L838.0,3867.2 L837.7,3875.7 L837.2,3884.1 L836.3,3892.3 L835.0,3900.2 L833.4,3907.8 L831.4,3915.1 L829.2,3922.2 L826.6,3928.9 L823.6,3935.2 L820.4,3941.3 L816.8,3946.9 L813.0,3952.1 L808.9,3956.9 L804.5,3961.3 L799.9,3965.3 L795.0,3968.8 L789.8,3971.9 L784.5,3974.5"/>
<path class="t" d="M627.6,3634.3 L633.3,3632.7 L639.2,3631.5 L645.3,3630.8 L651.5,3630.6 L657.8,3630.9 L664.3,3631.6 L670.8,3632.9 L677.4,3634.6 L684.0,3636.8 L690.7,3639.5 L697.4,3642.6 L704.1,3646.2 L710.8,3650.2 L717.4,3654.7 L724.0,3659.6 L730.5,3664.9 L736.9,3670.5 L743.3,3676.6 L749.4,3683.0 L755.5,3689.8 L761.3,3696.9 L767.0,3704.3 L772.5,3711.9 L777.8,3719.9 L782.9,3728.0 L787.7,3736.4 L792.3,3745.0 L796.6,3753.8 L800.7,3762.7 L804.4,3771.7 L807.9,3780.9 L811.0,3790.1 L813.9,3799.3 L816.4,3808.6 L818.6,3817.9 L820.5,3827.2 L822.0,3836.4 L823.2,3845.5 L824.0,3854.5 L824.5,3863.4 L824.6,3872.1 L824.4,3880.7 L823.8,3889.1 L822.9,3897.2 L821.6,3905.1 L820.0,3912.8 L818.1,3920.1 L815.8,3927.1 L813.2,3933.8 L810.3,3940.2 L807.0,3946.2 L803.5,3951.8 L799.7,3957.1 L795.5,3961.9 L791.1,3966.3 L786.5,3970.3 L781.6,3973.8 L776.5,3976.8 L771.1,3979.5"/>
<path class="t" d="M614.2,3639.3 L619.9,3637.6 L625.8,3636.5 L631.9,3635.8 L638.1,3635.6 L644.5,3635.8 L650.9,3636.6 L657.4,3637.9 L664.0,3639.6 L670.7,3641.8 L677.4,3644.5 L684.1,3647.6 L690.8,3651.2 L697.4,3655.2 L704.1,3659.7 L710.7,3664.5 L717.2,3669.8 L723.6,3675.5 L729.9,3681.6 L736.1,3688.0 L742.1,3694.7 L748.0,3701.8 L753.7,3709.2 L759.2,3716.9 L764.4,3724.8 L769.5,3733.0 L774.3,3741.4 L778.9,3750.0 L783.2,3758.8 L787.3,3767.7 L791.1,3776.7 L794.5,3785.8 L797.7,3795.1 L800.5,3804.3 L803.0,3813.6 L805.2,3822.9 L807.1,3832.1 L808.6,3841.3 L809.8,3850.5 L810.6,3859.5 L811.1,3868.4 L811.2,3877.1 L811.0,3885.7 L810.5,3894.0 L809.5,3902.2 L808.3,3910.1 L806.7,3917.7 L804.7,3925.1 L802.4,3932.1 L799.8,3938.8 L796.9,3945.2 L793.7,3951.2 L790.1,3956.8 L786.3,3962.0 L782.2,3966.9 L777.8,3971.3 L773.1,3975.2 L768.2,3978.7 L763.1,3981.8 L757.8,3984.4"/>
<path class="t" d="M601.6,3644.0 L607.4,3642.3 L613.3,3641.1 L619.3,3640.4 L625.5,3640.2 L631.9,3640.5 L638.3,3641.3 L644.8,3642.5 L651.4,3644.3 L658.1,3646.5 L664.8,3649.1 L671.5,3652.3 L678.2,3655.8 L684.9,3659.9 L691.5,3664.3 L698.1,3669.2 L704.6,3674.5 L711.0,3680.2 L717.3,3686.2 L723.5,3692.7 L729.5,3699.4 L735.4,3706.5 L741.1,3713.9 L746.6,3721.6 L751.9,3729.5 L756.9,3737.7 L761.8,3746.1 L766.4,3754.7 L770.7,3763.4 L774.7,3772.3 L778.5,3781.4 L781.9,3790.5 L785.1,3799.7 L787.9,3809.0 L790.5,3818.3 L792.7,3827.5 L794.5,3836.8 L796.0,3846.0 L797.2,3855.1 L798.1,3864.1 L798.5,3873.0 L798.7,3881.8 L798.4,3890.3 L797.9,3898.7 L797.0,3906.9 L795.7,3914.8 L794.1,3922.4 L792.1,3929.7 L789.9,3936.8 L787.3,3943.5 L784.3,3949.8 L781.1,3955.9 L777.5,3961.5 L773.7,3966.7 L769.6,3971.5 L765.2,3975.9 L760.6,3979.9 L755.7,3983.4 L750.5,3986.5 L745.2,3989.1"/>
<ellipse class="o" cx="661.2" cy="3821.1" rx="187" ry="113.5" transform="rotate(66.5 661.2 3821.1)"/>
<ellipse class="t" cx="661.2" cy="3821.1" rx="173.91" ry="102.15" transform="rotate(66.5 661.2 3821.1)"/>
<ellipse class="o" cx="669.2" cy="3818.1" rx="138.38" ry="79.44999999999999" transform="rotate(66.5 669.2 3818.1)"/>
<ellipse class="t" cx="671.2" cy="3817.1" rx="129.03" ry="73.775" transform="rotate(66.5 671.2 3817.1)"/>
<ellipse class="o" cx="692.9" cy="3808.4" rx="44.879999999999995" ry="27.24" transform="rotate(66.5 692.9 3808.4)"/>
<ellipse class="t" cx="695.9" cy="3807.4" rx="31.790000000000003" ry="19.295" transform="rotate(66.5 695.9 3807.4)"/>
<path class="t" d="M712.3,3853.0 L723.1,3939.9"/>
<path class="t" d="M707.1,3854.4 L715.8,3942.3"/>
<path class="t" d="M687.5,3848.2 L657.6,3926.0"/>
<path class="t" d="M681.7,3843.5 L648.9,3919.0"/>
<path class="t" d="M665.8,3820.2 L599.4,3848.9"/>
<path class="t" d="M662.8,3812.0 L594.5,3836.6"/>
<path class="t" d="M660.1,3785.2 L582.7,3753.8"/>
<path class="t" d="M661.6,3778.4 L584.4,3743.3"/>
<path class="t" d="M673.5,3763.8 L617.3,3696.3"/>
<path class="t" d="M678.7,3762.4 L624.6,3693.9"/>
<path class="t" d="M698.3,3768.6 L682.8,3710.2"/>
<path class="t" d="M704.1,3773.3 L691.5,3717.2"/>
<path class="t" d="M720.0,3796.6 L741.0,3787.3"/>
<path class="t" d="M723.0,3804.8 L745.9,3799.6"/>
<path class="t" d="M725.7,3831.6 L757.7,3882.4"/>
<path class="t" d="M724.2,3838.4 L756.0,3892.9"/>
<line class="l" x1="590" y1="3905" x2="690" y2="3840"/>
<ellipse class="o" cx="512" cy="3917" rx="35" ry="43" transform="rotate(-10 512 3917)"/>
<ellipse class="o" cx="515" cy="3917" rx="12" ry="15" transform="rotate(-10 515 3917)"/>
<ellipse class="o" cx="440" cy="3957" rx="22" ry="27" transform="rotate(-10 440 3957)"/>
<ellipse class="t" cx="442" cy="3957" rx="13" ry="17" transform="rotate(-10 442 3957)"/>
<path class="o" d="M432,3982 L440,3995 L452,3990"/>
<line class="l" x1="470" y1="3940" x2="498" y2="3925"/>
<line class="l" x1="545" y1="3895" x2="590" y2="3870"/>
<ellipse class="o" cx="165" cy="3912" rx="100" ry="138" transform="rotate(-22 165 3912)"/>
<ellipse class="t" cx="160" cy="3918" rx="52" ry="68" transform="rotate(-22 160 3918)"/>
<path class="t" d="M169.8,3822.3 L174.3,3785.9 L186.3,3797.9 L181.8,3834.3Z"/>
<path class="t" d="M217.3,3876.9 L241.7,3864.3 L253.7,3876.3 L229.3,3888.9Z"/>
<path class="t" d="M206.5,3960.6 L226.4,3984.4 L238.4,3996.4 L218.5,3972.6Z"/>
<path class="t" d="M148.2,3989.7 L143.7,4026.1 L155.7,4038.1 L160.2,4001.7Z"/>
<path class="t" d="M100.7,3935.1 L76.3,3947.7 L88.3,3959.7 L112.7,3947.1Z"/>
<path class="t" d="M111.5,3851.4 L91.6,3827.6 L103.6,3839.6 L123.5,3863.4Z"/>
<path class="d" d="M250.0,3852.0 L262.0,3862.0 L410.0,3977.0 L420.0,3972.0"/>
<path class="o" d="M1186.6,3651.6 C1190.4,3649.8 1201.8,3641.9 1209.4,3640.9 C1217.0,3639.9 1228.5,3644.7 1232.3,3645.5"/>
<path class="o" d="M1252.1,3663.0 C1256.4,3666.9 1271.1,3677.6 1278.0,3686.6 C1284.8,3695.6 1289.6,3705.6 1293.2,3717.0 C1296.7,3728.5 1299.8,3743.7 1299.3,3755.1 C1298.8,3766.5 1296.2,3777.2 1290.1,3785.6 C1284.1,3793.9 1270.3,3802.1 1262.7,3805.4 C1255.1,3808.7 1247.5,3805.4 1244.5,3805.4"/>
<path class="t" d="M1253.6,3671.4 L1265.8,3686.6"/>
<path class="o" d="M1265.8,3686.6 C1266.0,3691.7 1265.3,3706.9 1267.3,3717.0 C1269.3,3727.2 1276.4,3736.6 1278.0,3747.5 C1279.5,3758.4 1278.2,3776.2 1276.4,3782.5 C1274.7,3788.9 1272.4,3783.3 1267.3,3785.6 C1262.2,3787.9 1249.5,3794.5 1246.0,3796.2"/>
<path class="o" d="M1133.3,3675.4 L1135.8,3673.4 L1138.5,3671.5 L1141.4,3669.9 L1144.3,3668.6 L1147.3,3667.4 L1150.5,3666.4 L1153.7,3665.7 L1157.0,3665.2 L1160.3,3664.9 L1163.8,3664.9 L1167.2,3665.0 L1170.8,3665.5 L1174.3,3666.1 L1177.9,3666.9 L1181.5,3668.0 L1185.0,3669.3 L1188.6,3670.8 L1192.2,3672.6 L1195.7,3674.5 L1199.2,3676.6 L1202.6,3679.0 L1206.0,3681.5 L1209.3,3684.2 L1212.6,3687.1 L1215.7,3690.1 L1218.8,3693.3 L1221.7,3696.7 L1224.6,3700.1 L1227.3,3703.8 L1230.0,3707.5 L1232.4,3711.4 L1234.8,3715.3 L1237.0,3719.4 L1239.0,3723.5 L1240.9,3727.7 L1242.7,3731.9 L1244.2,3736.2 L1245.6,3740.5 L1246.9,3744.9 L1247.9,3749.2 L1248.8,3753.6 L1249.4,3757.9 L1249.9,3762.2 L1250.3,3766.5 L1250.4,3770.7 L1250.3,3774.9 L1250.1,3779.0 L1249.6,3783.0 L1249.0,3786.9 L1248.2,3790.6 L1247.2,3794.3 L1246.0,3797.9 L1244.7,3801.3 L1243.2,3804.6 L1241.5,3807.7 L1239.6,3810.6 L1237.6,3813.4 L1235.5,3816.0 L1233.2,3818.4"/>
<ellipse class="o" cx="1173" cy="3756" rx="88" ry="62" transform="rotate(62.5 1173 3756)"/>
<ellipse class="t" cx="1168" cy="3759" rx="79" ry="54" transform="rotate(62.5 1168 3759)"/>
<ellipse class="t" cx="1170" cy="3757" rx="84" ry="58" transform="rotate(62.5 1170 3757)"/>
<path class="o" d="M1098.3,3695.7 L1131.8,3675.9 L1136.3,3683.5 L1108.9,3706.4"/>
<ellipse class="o" cx="1241.4" cy="3615" rx="9" ry="6"/>
<line class="l" x1="1232.3" y1="3615" x2="1232.3" y2="3683"/>
<line class="l" x1="1250.5" y1="3615" x2="1250.5" y2="3683"/>
<ellipse class="o" cx="1241.4" cy="3686" rx="23" ry="9"/>
<ellipse class="t" cx="1241.4" cy="3694" rx="22" ry="8"/>
<path class="t" d="M1217.0,3689.6 C1217.2,3694.2 1215.3,3708.7 1217.8,3717.0 C1220.3,3725.4 1226.1,3735.3 1232.3,3739.9 C1238.5,3744.5 1250.0,3744.7 1255.1,3744.5 C1260.2,3744.2 1261.0,3742.9 1262.7,3738.4 C1264.5,3733.8 1265.3,3720.6 1265.8,3717.0"/>
<path class="o" d="M1214.0,3707.9 C1216.0,3702.3 1223.1,3680.5 1226.2,3674.4 C1229.2,3668.3 1231.3,3671.9 1232.3,3671.4"/>
<path d="M401,3121 C415,3118 433,3111 450,3100 C465,3092 480,3089 494,3089 C505,3086 512,3080 513,3070 L513,3044" fill="none" stroke="#222" stroke-width="7.5" stroke-linecap="round"/>
<path d="M401,3121 C415,3118 433,3111 450,3100 C465,3092 480,3089 494,3089 C505,3086 512,3080 513,3070 L513,3044" fill="none" stroke="#fff" stroke-width="3" stroke-linecap="round"/>
<line class="l" x1="645" y1="2960" x2="645" y2="3028"/>
<polygon class="o" points="638,3043 652,3043 658,3052 652,3060 638,3060 632,3052"/>
<circle class="t" cx="645" cy="3040" r="6"/>
<path class="o" d="M1559.4,3103.6 L1565.1,3101.9 L1571.0,3100.7 L1577.1,3100.0 L1583.3,3099.8 L1589.6,3100.1 L1596.1,3100.9 L1602.6,3102.1 L1609.2,3103.9 L1615.9,3106.1 L1622.6,3108.7 L1629.3,3111.9 L1636.0,3115.4 L1642.6,3119.5 L1649.3,3123.9 L1655.9,3128.8 L1662.4,3134.1 L1668.8,3139.8 L1675.1,3145.8 L1681.3,3152.3 L1687.3,3159.0 L1693.2,3166.1 L1698.9,3173.5 L1704.3,3181.2 L1709.6,3189.1 L1714.7,3197.3 L1719.5,3205.7 L1724.1,3214.3 L1728.4,3223.0 L1732.5,3231.9 L1736.2,3241.0 L1739.7,3250.1 L1742.9,3259.3 L1745.7,3268.6 L1748.2,3277.9 L1750.4,3287.2 L1752.3,3296.4 L1753.8,3305.6 L1755.0,3314.7 L1755.8,3323.8 L1756.3,3332.6 L1756.4,3341.4 L1756.2,3350.0 L1755.6,3358.3 L1754.7,3366.5 L1753.5,3374.4 L1751.9,3382.0 L1749.9,3389.3 L1747.6,3396.4 L1745.0,3403.1 L1742.1,3409.5 L1738.9,3415.5 L1735.3,3421.1 L1731.5,3426.3 L1727.4,3431.1 L1723.0,3435.5 L1718.3,3439.5 L1713.4,3443.0 L1708.3,3446.1 L1703.0,3448.7"/>
<path class="t" d="M1544.2,3110.2 L1549.9,3108.5 L1555.8,3107.3 L1561.9,3106.6 L1568.1,3106.4 L1574.4,3106.7 L1580.9,3107.5 L1587.4,3108.7 L1594.0,3110.5 L1600.6,3112.7 L1607.3,3115.3 L1614.0,3118.5 L1620.7,3122.0 L1627.4,3126.1 L1634.1,3130.5 L1640.6,3135.4 L1647.1,3140.7 L1653.6,3146.4 L1659.9,3152.4 L1666.0,3158.9 L1672.1,3165.6 L1677.9,3172.7 L1683.6,3180.1 L1689.1,3187.8 L1694.4,3195.7 L1699.5,3203.9 L1704.3,3212.3 L1708.9,3220.9 L1713.2,3229.6 L1717.3,3238.5 L1721.0,3247.6 L1724.5,3256.7 L1727.6,3265.9 L1730.5,3275.2 L1733.0,3284.5 L1735.2,3293.8 L1737.1,3303.0 L1738.6,3312.2 L1739.8,3321.3 L1740.6,3330.4 L1741.1,3339.2 L1741.2,3348.0 L1741.0,3356.6 L1740.4,3364.9 L1739.5,3373.1 L1738.2,3381.0 L1736.6,3388.6 L1734.7,3395.9 L1732.4,3403.0 L1729.8,3409.7 L1726.9,3416.1 L1723.6,3422.1 L1720.1,3427.7 L1716.3,3432.9 L1712.1,3437.7 L1707.8,3442.1 L1703.1,3446.1 L1698.2,3449.6 L1693.1,3452.7 L1687.7,3455.3"/>
<path class="t" d="M1530.5,3116.1 L1536.2,3114.5 L1542.1,3113.3 L1548.2,3112.6 L1554.4,3112.4 L1560.7,3112.7 L1567.2,3113.4 L1573.7,3114.7 L1580.3,3116.4 L1586.9,3118.6 L1593.6,3121.3 L1600.3,3124.4 L1607.0,3128.0 L1613.7,3132.0 L1620.4,3136.5 L1626.9,3141.4 L1633.4,3146.6 L1639.9,3152.3 L1646.2,3158.4 L1652.3,3164.8 L1658.4,3171.6 L1664.2,3178.6 L1669.9,3186.0 L1675.4,3193.7 L1680.7,3201.6 L1685.8,3209.8 L1690.6,3218.2 L1695.2,3226.8 L1699.5,3235.6 L1703.6,3244.5 L1707.3,3253.5 L1710.8,3262.7 L1714.0,3271.9 L1716.8,3281.1 L1719.3,3290.4 L1721.5,3299.7 L1723.4,3308.9 L1724.9,3318.1 L1726.1,3327.3 L1726.9,3336.3 L1727.4,3345.2 L1727.5,3353.9 L1727.3,3362.5 L1726.7,3370.9 L1725.8,3379.0 L1724.5,3386.9 L1722.9,3394.5 L1721.0,3401.9 L1718.7,3408.9 L1716.1,3415.6 L1713.2,3422.0 L1709.9,3428.0 L1706.4,3433.6 L1702.6,3438.9 L1698.4,3443.7 L1694.1,3448.1 L1689.4,3452.0 L1684.5,3455.6 L1679.4,3458.6 L1674.0,3461.2"/>
<path class="t" d="M1517.5,3121.7 L1523.3,3120.1 L1529.2,3118.9 L1535.2,3118.2 L1541.5,3118.0 L1547.8,3118.3 L1554.2,3119.0 L1560.8,3120.3 L1567.4,3122.0 L1574.0,3124.2 L1580.7,3126.9 L1587.4,3130.0 L1594.1,3133.6 L1600.8,3137.6 L1607.4,3142.1 L1614.0,3147.0 L1620.5,3152.3 L1626.9,3157.9 L1633.2,3164.0 L1639.4,3170.4 L1645.4,3177.2 L1651.3,3184.3 L1657.0,3191.6 L1662.5,3199.3 L1667.8,3207.2 L1672.9,3215.4 L1677.7,3223.8 L1682.3,3232.4 L1686.6,3241.2 L1690.6,3250.1 L1694.4,3259.1 L1697.9,3268.3 L1701.0,3277.5 L1703.9,3286.7 L1706.4,3296.0 L1708.6,3305.3 L1710.4,3314.6 L1712.0,3323.8 L1713.1,3332.9 L1714.0,3341.9 L1714.5,3350.8 L1714.6,3359.5 L1714.4,3368.1 L1713.8,3376.5 L1712.9,3384.6 L1711.6,3392.5 L1710.0,3400.1 L1708.1,3407.5 L1705.8,3414.5 L1703.2,3421.2 L1700.2,3427.6 L1697.0,3433.6 L1693.5,3439.2 L1689.6,3444.5 L1685.5,3449.3 L1681.1,3453.7 L1676.5,3457.6 L1671.6,3461.2 L1666.5,3464.2 L1661.1,3466.8"/>
<path class="t" d="M1504.6,3127.3 L1510.3,3125.7 L1516.2,3124.5 L1522.3,3123.8 L1528.5,3123.6 L1534.9,3123.9 L1541.3,3124.6 L1547.8,3125.9 L1554.4,3127.6 L1561.1,3129.8 L1567.8,3132.5 L1574.5,3135.6 L1581.2,3139.2 L1587.8,3143.2 L1594.5,3147.7 L1601.1,3152.6 L1607.6,3157.9 L1614.0,3163.5 L1620.3,3169.6 L1626.5,3176.0 L1632.5,3182.8 L1638.4,3189.9 L1644.1,3197.3 L1649.6,3204.9 L1654.8,3212.9 L1659.9,3221.0 L1664.7,3229.4 L1669.3,3238.0 L1673.6,3246.8 L1677.7,3255.7 L1681.5,3264.7 L1684.9,3273.9 L1688.1,3283.1 L1690.9,3292.3 L1693.4,3301.6 L1695.6,3310.9 L1697.5,3320.2 L1699.0,3329.4 L1700.2,3338.5 L1701.0,3347.5 L1701.5,3356.4 L1701.6,3365.1 L1701.4,3373.7 L1700.9,3382.1 L1699.9,3390.2 L1698.7,3398.1 L1697.1,3405.8 L1695.1,3413.1 L1692.8,3420.1 L1690.2,3426.8 L1687.3,3433.2 L1684.1,3439.2 L1680.5,3444.8 L1676.7,3450.1 L1672.6,3454.9 L1668.2,3459.3 L1663.5,3463.3 L1658.6,3466.8 L1653.5,3469.8 L1648.2,3472.5"/>
<path class="t" d="M1492.4,3132.6 L1498.2,3131.0 L1504.1,3129.8 L1510.1,3129.1 L1516.3,3128.9 L1522.7,3129.2 L1529.1,3129.9 L1535.6,3131.2 L1542.2,3132.9 L1548.9,3135.1 L1555.6,3137.8 L1562.3,3140.9 L1569.0,3144.5 L1575.7,3148.5 L1582.3,3153.0 L1588.9,3157.9 L1595.4,3163.1 L1601.8,3168.8 L1608.1,3174.9 L1614.3,3181.3 L1620.3,3188.1 L1626.2,3195.1 L1631.9,3202.5 L1637.4,3210.2 L1642.7,3218.1 L1647.7,3226.3 L1652.6,3234.7 L1657.2,3243.3 L1661.5,3252.1 L1665.5,3261.0 L1669.3,3270.0 L1672.7,3279.2 L1675.9,3288.4 L1678.7,3297.6 L1681.3,3306.9 L1683.5,3316.2 L1685.3,3325.4 L1686.8,3334.6 L1688.0,3343.8 L1688.9,3352.8 L1689.3,3361.7 L1689.5,3370.4 L1689.2,3379.0 L1688.7,3387.4 L1687.8,3395.5 L1686.5,3403.4 L1684.9,3411.0 L1682.9,3418.4 L1680.7,3425.4 L1678.1,3432.1 L1675.1,3438.5 L1671.9,3444.5 L1668.3,3450.1 L1664.5,3455.4 L1660.4,3460.2 L1656.0,3464.6 L1651.4,3468.5 L1646.5,3472.1 L1641.3,3475.1 L1636.0,3477.7"/>
<ellipse class="o" cx="1552.3" cy="3310.2" rx="187" ry="113.5" transform="rotate(66.5 1552.3 3310.2)"/>
<ellipse class="t" cx="1552.3" cy="3310.2" rx="173.91" ry="102.15" transform="rotate(66.5 1552.3 3310.2)"/>
<ellipse class="o" cx="1560.3" cy="3307.2" rx="138.38" ry="79.44999999999999" transform="rotate(66.5 1560.3 3307.2)"/>
<ellipse class="t" cx="1562.3" cy="3306.2" rx="129.03" ry="73.775" transform="rotate(66.5 1562.3 3306.2)"/>
<ellipse class="o" cx="1547" cy="3313.5" rx="44.879999999999995" ry="27.24" transform="rotate(66.5 1547 3313.5)"/>
<ellipse class="t" cx="1550" cy="3312.5" rx="31.790000000000003" ry="19.295" transform="rotate(66.5 1550 3312.5)"/>
<path class="t" d="M1566.4,3358.1 L1614.2,3429.0"/>
<path class="t" d="M1561.2,3359.5 L1606.9,3431.4"/>
<path class="t" d="M1541.6,3353.3 L1548.7,3415.1"/>
<path class="t" d="M1535.8,3348.6 L1540.0,3408.1"/>
<path class="t" d="M1519.9,3325.3 L1490.5,3338.0"/>
<path class="t" d="M1516.9,3317.1 L1485.6,3325.7"/>
<path class="t" d="M1514.2,3290.3 L1473.8,3242.9"/>
<path class="t" d="M1515.7,3283.5 L1475.5,3232.4"/>
<path class="t" d="M1527.6,3268.9 L1508.4,3185.4"/>
<path class="t" d="M1532.8,3267.5 L1515.7,3183.0"/>
<path class="t" d="M1552.4,3273.7 L1573.9,3199.3"/>
<path class="t" d="M1558.2,3278.4 L1582.6,3206.3"/>
<path class="t" d="M1574.1,3301.7 L1632.1,3276.4"/>
<path class="t" d="M1577.1,3309.9 L1637.0,3288.7"/>
<path class="t" d="M1579.8,3336.7 L1648.8,3371.5"/>
<path class="t" d="M1578.3,3343.5 L1647.1,3382.0"/>
</svg></body></html>
